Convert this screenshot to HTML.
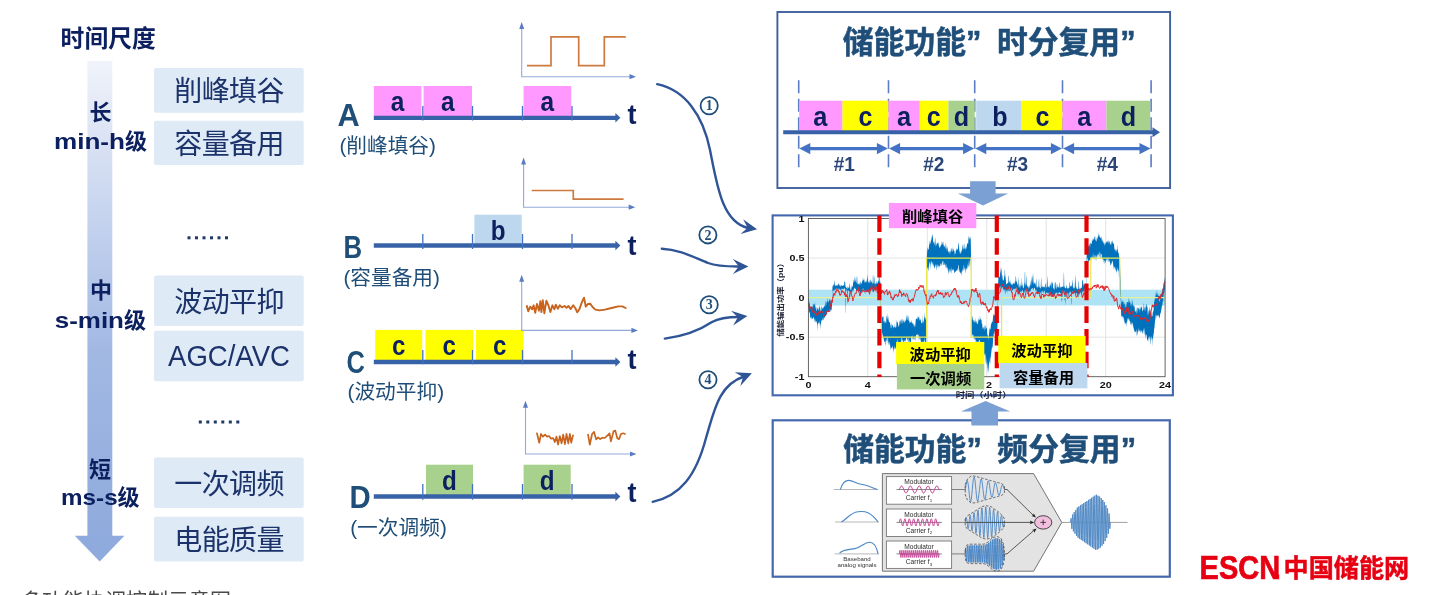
<!DOCTYPE html>
<html lang="zh"><head><meta charset="utf-8"><title>储能多功能协调控制示意图</title>
<style>
html,body{margin:0;padding:0;background:#fff}
body{width:1436px;height:595px;overflow:hidden;position:relative;font-family:"Liberation Sans","Noto Sans CJK SC",sans-serif}
svg{position:absolute;left:0;top:0;display:block;filter:blur(0.5px)}
svg text{font-family:"Liberation Sans","Noto Sans CJK SC",sans-serif}
.se{font-family:"Liberation Serif","Noto Serif CJK SC",serif}
</style></head><body>
<svg width="1436" height="595" viewBox="0 0 1436 595">
<defs>
<linearGradient id="gbar" x1="0" y1="0" x2="0" y2="1"><stop offset="0" stop-color="#f0f3fa"/><stop offset="0.3" stop-color="#c9d6ef"/><stop offset="0.6" stop-color="#a3b9e4"/><stop offset="1" stop-color="#8faadc"/></linearGradient>
</defs>
<rect x="87.4" y="61" width="24.9" height="476" fill="url(#gbar)"/>
<path d="M74.8 535.7H124.4L99.7 561.5Z" fill="#8faadc"/>
<text x="60.6" y="47.3" font-size="23.8" font-weight="700" fill="#0c2060">时间尺度</text>
<rect x="154" y="67.9" width="149.7" height="44.9" rx="2" fill="#deeaf6"/>
<text x="174.33" y="101.45" font-size="28" fill="#1b326a" textLength="110.2" lengthAdjust="spacing">削峰填谷</text>
<rect x="154" y="120.8" width="149.7" height="44.2" rx="2" fill="#deeaf6"/>
<text x="174.33" y="154" font-size="28" fill="#1b326a" textLength="110.2" lengthAdjust="spacing">容量备用</text>
<rect x="154" y="275.6" width="149.7" height="50.4" rx="2" fill="#deeaf6"/>
<text x="174.33" y="311.9" font-size="28" fill="#1b326a" textLength="110.2" lengthAdjust="spacing">波动平抑</text>
<rect x="154" y="330.8" width="149.7" height="50.5" rx="2" fill="#deeaf6"/>
<text x="229" y="365.95" font-size="29" fill="#1b326a" text-anchor="middle" textLength="122" lengthAdjust="spacingAndGlyphs">AGC/AVC</text>
<rect x="154" y="457.6" width="149.7" height="50.4" rx="2" fill="#deeaf6"/>
<text x="174.33" y="493.9" font-size="28" fill="#1b326a" textLength="110.2" lengthAdjust="spacing">一次调频</text>
<rect x="154" y="516.8" width="149.7" height="44.7" rx="2" fill="#deeaf6"/>
<text x="174.33" y="550.25" font-size="28" fill="#1b326a" textLength="110.2" lengthAdjust="spacing">电能质量</text>
<text x="89.5" y="120.3" font-size="22" font-weight="700" fill="#0c2060">长</text>
<text x="53.98" y="149.3" font-size="22" font-weight="700" fill="#0c2060" textLength="71.02" lengthAdjust="spacingAndGlyphs">min-h</text>
<text x="125" y="149.3" font-size="22" font-weight="700" fill="#0c2060">级</text>
<text x="90" y="298.3" font-size="22" font-weight="700" fill="#0c2060">中</text>
<text x="54.76" y="328" font-size="22" font-weight="700" fill="#0c2060" textLength="69.24" lengthAdjust="spacingAndGlyphs">s-min</text>
<text x="124" y="328" font-size="22" font-weight="700" fill="#0c2060">级</text>
<text x="89" y="477" font-size="22" font-weight="700" fill="#0c2060">短</text>
<text x="61.1" y="505" font-size="22" font-weight="700" fill="#0c2060" textLength="56.5" lengthAdjust="spacingAndGlyphs">ms-s</text>
<text x="117.6" y="505" font-size="22" font-weight="700" fill="#0c2060">级</text>
<rect x="187.5" y="236.3" width="3" height="3" fill="#1f3864"/>
<rect x="195" y="236.3" width="3" height="3" fill="#1f3864"/>
<rect x="202.5" y="236.3" width="3" height="3" fill="#1f3864"/>
<rect x="210" y="236.3" width="3" height="3" fill="#1f3864"/>
<rect x="217.5" y="236.3" width="3" height="3" fill="#1f3864"/>
<rect x="225" y="236.3" width="3" height="3" fill="#1f3864"/>
<rect x="198.8" y="420.5" width="3" height="3" fill="#1f3864"/>
<rect x="206.3" y="420.5" width="3" height="3" fill="#1f3864"/>
<rect x="213.8" y="420.5" width="3" height="3" fill="#1f3864"/>
<rect x="221.3" y="420.5" width="3" height="3" fill="#1f3864"/>
<rect x="228.8" y="420.5" width="3" height="3" fill="#1f3864"/>
<rect x="236.3" y="420.5" width="3" height="3" fill="#1f3864"/>
<text x="21" y="608.2" font-size="21" fill="#4a4a4a">多功能协调控制示意图</text>
<rect x="373.8" y="86" width="47.6" height="30.5" fill="#ff99ff"/>
<text x="390.8" y="110.6" font-size="27" font-weight="700" fill="#0c2060" textLength="13.6" lengthAdjust="spacingAndGlyphs">a</text>
<rect x="423.6" y="86" width="48.4" height="30.5" fill="#ff99ff"/>
<text x="441" y="110.6" font-size="27" font-weight="700" fill="#0c2060" textLength="13.6" lengthAdjust="spacingAndGlyphs">a</text>
<rect x="523.6" y="86" width="47.6" height="30.5" fill="#ff99ff"/>
<text x="540.6" y="110.6" font-size="27" font-weight="700" fill="#0c2060" textLength="13.6" lengthAdjust="spacingAndGlyphs">a</text>
<path d="M373.8 117.8H616" stroke="#3862a7" stroke-width="4.3" fill="none"/>
<path d="M620.4 117.8l-5 -4.7v9.4z" fill="#3862a7"/>
<path d="M422.8 106V120.5" stroke="#4472c4" stroke-width="1.3"/>
<path d="M472.5 106V120.5" stroke="#4472c4" stroke-width="1.3"/>
<path d="M522.5 106V120.5" stroke="#4472c4" stroke-width="1.3"/>
<path d="M572 106V120.5" stroke="#4472c4" stroke-width="1.3"/>
<text x="337.5" y="126" font-size="31" font-weight="700" fill="#1f4e79" textLength="22.2" lengthAdjust="spacingAndGlyphs">A</text>
<text x="627.5" y="124.3" font-size="27" font-weight="700" fill="#0c2060">t</text>
<text x="339.4" y="153.4" font-size="20.7" font-weight="400" fill="#1f4e79" textLength="6.89" lengthAdjust="spacingAndGlyphs">(</text>
<text x="346.29" y="153.4" font-size="20.7" fill="#1f4e79">削峰填谷</text>
<text x="429.09" y="153.4" font-size="20.7" font-weight="400" fill="#1f4e79" textLength="6.89" lengthAdjust="spacingAndGlyphs">)</text>
<path d="M521.7 27V76.7H631" stroke="#94a9db" stroke-width="1.1" fill="none"/>
<path d="M521.7 22l-2.5 7h5z M636 76.7l-6.5 -2.6v5.2z" fill="#5b7cc4"/>
<path d="M527 65.7H551V36.9H578.7V65.7H604.3V36.9H625.8" stroke="#cd7a3f" stroke-width="1.7" fill="none"/>
<rect x="474.4" y="214.7" width="47.3" height="30.3" fill="#bdd7ee"/>
<text x="490.65" y="240" font-size="27" font-weight="700" fill="#0c2060" textLength="14.8" lengthAdjust="spacingAndGlyphs">b</text>
<path d="M373.8 245.5H616" stroke="#3862a7" stroke-width="4.3" fill="none"/>
<path d="M620.4 245.5l-5 -4.7v9.4z" fill="#3862a7"/>
<path d="M422.8 234V249" stroke="#4472c4" stroke-width="1.3"/>
<path d="M472.5 234V249" stroke="#4472c4" stroke-width="1.3"/>
<path d="M522.5 234V249" stroke="#4472c4" stroke-width="1.3"/>
<path d="M572 234V249" stroke="#4472c4" stroke-width="1.3"/>
<text x="343.5" y="258.3" font-size="31" font-weight="700" fill="#1f4e79" textLength="18.6" lengthAdjust="spacingAndGlyphs">B</text>
<text x="627.5" y="255" font-size="27" font-weight="700" fill="#0c2060">t</text>
<text x="343.4" y="284.9" font-size="20.7" font-weight="400" fill="#1f4e79" textLength="6.89" lengthAdjust="spacingAndGlyphs">(</text>
<text x="350.29" y="284.9" font-size="20.7" fill="#1f4e79">容量备用</text>
<text x="433.09" y="284.9" font-size="20.7" font-weight="400" fill="#1f4e79" textLength="6.89" lengthAdjust="spacingAndGlyphs">)</text>
<path d="M523.6 162.5V207.2H630.2" stroke="#94a9db" stroke-width="1.1" fill="none"/>
<path d="M523.6 157.5l-2.5 7h5z M635.2 207.2l-6.5 -2.6v5.2z" fill="#5b7cc4"/>
<path d="M531.7 190.5H573.3V199.2H623.6" stroke="#cd7a3f" stroke-width="1.7" fill="none"/>
<rect x="375.2" y="329.9" width="47" height="30.6" fill="#ffff00"/>
<text x="392" y="354.6" font-size="27" font-weight="700" fill="#0c2060" textLength="13.4" lengthAdjust="spacingAndGlyphs">c</text>
<rect x="425.5" y="329.9" width="47.5" height="30.6" fill="#ffff00"/>
<text x="442.55" y="354.6" font-size="27" font-weight="700" fill="#0c2060" textLength="13.4" lengthAdjust="spacingAndGlyphs">c</text>
<rect x="476" y="329.9" width="47.6" height="30.6" fill="#ffff00"/>
<text x="493.1" y="354.6" font-size="27" font-weight="700" fill="#0c2060" textLength="13.4" lengthAdjust="spacingAndGlyphs">c</text>
<path d="M373.8 362H616" stroke="#3862a7" stroke-width="4.3" fill="none"/>
<path d="M620.4 362l-5 -4.7v9.4z" fill="#3862a7"/>
<path d="M422.8 350V364.3" stroke="#4472c4" stroke-width="1.3"/>
<path d="M472.5 350V364.3" stroke="#4472c4" stroke-width="1.3"/>
<path d="M522.5 350V364.3" stroke="#4472c4" stroke-width="1.3"/>
<path d="M572 350V364.3" stroke="#4472c4" stroke-width="1.3"/>
<text x="346.5" y="372.9" font-size="31" font-weight="700" fill="#1f4e79" textLength="18.4" lengthAdjust="spacingAndGlyphs">C</text>
<text x="627.5" y="369" font-size="27" font-weight="700" fill="#0c2060">t</text>
<text x="347.5" y="398.9" font-size="20.7" font-weight="400" fill="#1f4e79" textLength="6.89" lengthAdjust="spacingAndGlyphs">(</text>
<text x="354.39" y="398.9" font-size="20.7" fill="#1f4e79">波动平抑</text>
<text x="437.19" y="398.9" font-size="20.7" font-weight="400" fill="#1f4e79" textLength="6.89" lengthAdjust="spacingAndGlyphs">)</text>
<path d="M521.7 279.8V330.4H632.9" stroke="#94a9db" stroke-width="1.1" fill="none"/>
<path d="M521.7 274.8l-2.5 7h5z M637.9 330.4l-6.5 -2.6v5.2z" fill="#5b7cc4"/>
<path d="M526.88 305.99 L528.23 311.37 L530.24 306.67 L532.26 309.35 L533.6 305.32 L535.22 312.72 L536.96 303.98 L538.98 310.7 L540.32 301.29 L541.4 312.04 L542.74 300.22 L544.35 313.39 L546.37 300.62 L548.39 305.32 L550.4 312.04 L552.42 305.32 L554.44 309.35 L555.78 304.65 L557.8 308.68 L559.81 305.32 L561.83 307.34 L564.52 305.99 L566.53 307.74 L568.55 305.99 L570.56 309.09 L573.25 305.32 L575.27 308.01 L577.28 312.31 L579.3 309.35 L581.99 301.96 L584.01 297.66 L585.75 306.67 L588.04 303.98 L590.32 303.71 L592.74 307.34 L595.43 309.62 L599.46 310.43 L604.84 309.62 L611.56 308.01 L618.28 306.4 L622.31 306.4 L625.67 308.01" stroke="#c8641d" stroke-width="1.9" fill="none" stroke-linejoin="round" stroke-linecap="round"/>
<rect x="426" y="464.7" width="47" height="30.3" fill="#a9d18e"/>
<text x="442.1" y="490" font-size="27" font-weight="700" fill="#0c2060" textLength="14.8" lengthAdjust="spacingAndGlyphs">d</text>
<rect x="523.6" y="464.7" width="47.1" height="30.3" fill="#a9d18e"/>
<text x="539.75" y="490" font-size="27" font-weight="700" fill="#0c2060" textLength="14.8" lengthAdjust="spacingAndGlyphs">d</text>
<path d="M373.8 496.5H616" stroke="#3862a7" stroke-width="4.3" fill="none"/>
<path d="M620.4 496.5l-5 -4.7v9.4z" fill="#3862a7"/>
<path d="M422.8 484V499.7" stroke="#4472c4" stroke-width="1.3"/>
<path d="M472.5 484V499.7" stroke="#4472c4" stroke-width="1.3"/>
<path d="M522.5 484V499.7" stroke="#4472c4" stroke-width="1.3"/>
<path d="M572 484V499.7" stroke="#4472c4" stroke-width="1.3"/>
<text x="349.5" y="508.3" font-size="31" font-weight="700" fill="#1f4e79" textLength="21.2" lengthAdjust="spacingAndGlyphs">D</text>
<text x="627.5" y="501.6" font-size="27" font-weight="700" fill="#0c2060">t</text>
<text x="350.2" y="534.9" font-size="20.7" font-weight="400" fill="#1f4e79" textLength="6.89" lengthAdjust="spacingAndGlyphs">(</text>
<text x="357.09" y="534.9" font-size="20.7" fill="#1f4e79">一次调频</text>
<text x="439.89" y="534.9" font-size="20.7" font-weight="400" fill="#1f4e79" textLength="6.89" lengthAdjust="spacingAndGlyphs">)</text>
<path d="M525.5 405.8V454H631.5" stroke="#94a9db" stroke-width="1.1" fill="none"/>
<path d="M525.5 400.8l-2.5 7h5z M636.5 454l-6.5 -2.6v5.2z" fill="#5b7cc4"/>
<path d="M536.96 433.31 L539.25 442.72 L540.99 433.98 L543.01 436.67 L545.03 434.65 L547.04 436.67 L549.06 435.99 L551.08 438.68 L553.09 438.01 L554.84 442.04 L556.45 436.67 L558.06 444.46 L559.81 435.99 L561.56 443.39 L563.17 434.65 L564.92 444.06 L566.53 433.98 L568.28 443.39 L569.89 433.98 L571.24 442.72 L572.98 435.32" stroke="#c8641d" stroke-width="1.7" fill="none" stroke-linejoin="round" stroke-linecap="round"/>
<path d="M588.04 434.65 L589.78 444.73 L592.07 433.98 L594.09 431.96 L596.1 439.35 L598.12 437.34 L600.13 439.09 L602.15 437.74 L604.84 438.01 L607.53 435.32 L609.54 433.31 L610.89 441.37 L613.58 431.29 L615.32 430.62 L617.2 438.01 L618.95 439.35 L620.97 433.98 L622.98 433.31 L625 433.98" stroke="#c8641d" stroke-width="1.7" fill="none" stroke-linejoin="round" stroke-linecap="round"/>
<path d="M657.2 84.2C685 90 703 115 710 150C717 185 722 222 748 228" stroke="#2f5597" stroke-width="2.4" fill="none" stroke-linecap="round"/>
<path d="M757.1 229.3 L743.14 219.22 L747.64 227.63 L740.53 233.99Z" fill="#2f5597"/>
<path d="M661.8 248.7C680 249.5 695 258 708 263C718 266.8 730 266.5 740 266.5" stroke="#2f5597" stroke-width="2.4" fill="none" stroke-linecap="round"/>
<path d="M748.4 266.6 L732.9 259.1 L738.79 266.6 L732.9 274.1Z" fill="#2f5597"/>
<path d="M664.8 338.6C685 336 700 330 712 322C720 317.5 730 317 739 317" stroke="#2f5597" stroke-width="2.4" fill="none" stroke-linecap="round"/>
<path d="M747.4 315.9 L731.01 310.63 L737.88 317.24 L733.09 325.48Z" fill="#2f5597"/>
<path d="M652.7 501.8C680 496 696 476 706 438C714 412 718 385 744 376.5" stroke="#2f5597" stroke-width="2.4" fill="none" stroke-linecap="round"/>
<path d="M751.9 373.3 L734.72 372.15 L742.99 376.9 L740.34 386.06Z" fill="#2f5597"/>
<circle cx="709.2" cy="105.7" r="8.6" fill="none" stroke="#1f4e79" stroke-width="1.8"/>
<text class="se" x="709.2" y="110.4" font-size="14" font-weight="700" fill="#1f4e79" text-anchor="middle">1</text>
<circle cx="707.9" cy="234.9" r="8.6" fill="none" stroke="#1f4e79" stroke-width="1.8"/>
<text class="se" x="707.9" y="239.6" font-size="14" font-weight="700" fill="#1f4e79" text-anchor="middle">2</text>
<circle cx="709.2" cy="304.7" r="8.6" fill="none" stroke="#1f4e79" stroke-width="1.8"/>
<text class="se" x="709.2" y="309.4" font-size="14" font-weight="700" fill="#1f4e79" text-anchor="middle">3</text>
<circle cx="708" cy="379.7" r="8.6" fill="none" stroke="#1f4e79" stroke-width="1.8"/>
<text class="se" x="708" y="384.4" font-size="14" font-weight="700" fill="#1f4e79" text-anchor="middle">4</text>
<rect x="777.4" y="12" width="392.7" height="176" fill="none" stroke="#3f5f9c" stroke-width="1.9"/>
<text x="842.8" y="53.4" font-size="30.8" font-weight="700" fill="#1f4e79" stroke="#1f4e79" stroke-width="0.5" stroke-linejoin="round">储能功能<tspan x="966">”</tspan><tspan x="996.95">时分复用</tspan><tspan x="1120.3">”</tspan></text>
<path d="M798.7 80.2V168.6" stroke="#5a7dc6" stroke-width="1.6" stroke-dasharray="13 5.5" fill="none"/>
<path d="M888.5 80.2V168.6" stroke="#5a7dc6" stroke-width="1.6" stroke-dasharray="13 5.5" fill="none"/>
<path d="M974.7 80.2V168.6" stroke="#5a7dc6" stroke-width="1.6" stroke-dasharray="13 5.5" fill="none"/>
<path d="M1062.5 80.2V168.6" stroke="#5a7dc6" stroke-width="1.6" stroke-dasharray="13 5.5" fill="none"/>
<path d="M1151.1 80.2V168.6" stroke="#5a7dc6" stroke-width="1.6" stroke-dasharray="13 5.5" fill="none"/>
<rect x="799.2" y="100.7" width="43.3" height="30.3" fill="#ff99ff"/>
<text x="813.35" y="125.9" font-size="28" font-weight="700" fill="#0c2060" textLength="14.1" lengthAdjust="spacingAndGlyphs">a</text>
<rect x="842.5" y="100.7" width="46" height="30.3" fill="#ffff00"/>
<text x="858.55" y="125.9" font-size="28" font-weight="700" fill="#0c2060" textLength="13.9" lengthAdjust="spacingAndGlyphs">c</text>
<rect x="888.5" y="100.7" width="31.3" height="30.3" fill="#ff99ff"/>
<text x="897.05" y="125.9" font-size="28" font-weight="700" fill="#0c2060" textLength="14.1" lengthAdjust="spacingAndGlyphs">a</text>
<rect x="919.8" y="100.7" width="28.6" height="30.3" fill="#ffff00"/>
<text x="926.85" y="125.9" font-size="28" font-weight="700" fill="#0c2060" textLength="13.9" lengthAdjust="spacingAndGlyphs">c</text>
<rect x="948.4" y="100.7" width="26.3" height="30.3" fill="#a9d18e"/>
<text x="953.63" y="125.9" font-size="28" font-weight="700" fill="#0c2060" textLength="15.35" lengthAdjust="spacingAndGlyphs">d</text>
<rect x="976.2" y="100.7" width="44.8" height="30.3" fill="#bdd7ee"/>
<text x="992.23" y="125.9" font-size="28" font-weight="700" fill="#0c2060" textLength="15.35" lengthAdjust="spacingAndGlyphs">b</text>
<rect x="1021" y="100.7" width="41.5" height="30.3" fill="#ffff00"/>
<text x="1035.55" y="125.9" font-size="28" font-weight="700" fill="#0c2060" textLength="13.9" lengthAdjust="spacingAndGlyphs">c</text>
<rect x="1062.5" y="100.7" width="43.9" height="30.3" fill="#ff99ff"/>
<text x="1077.25" y="125.9" font-size="28" font-weight="700" fill="#0c2060" textLength="14.1" lengthAdjust="spacingAndGlyphs">a</text>
<rect x="1106.4" y="100.7" width="43.8" height="30.3" fill="#a9d18e"/>
<text x="1120.63" y="125.9" font-size="28" font-weight="700" fill="#0c2060" textLength="15.35" lengthAdjust="spacingAndGlyphs">d</text>
<path d="M783.2 132.3H1153" stroke="#3862a7" stroke-width="4" fill="none"/>
<path d="M1160 132.3l-7.5 -5v10z" fill="#3862a7"/>
<path d="M806.7 148.6H880.5" stroke="#4472c4" stroke-width="3.1" fill="none"/>
<path d="M799.3 148.6l11 -5.6v11.2z M887.9 148.6l-11 -5.6v11.2z" fill="#4472c4"/>
<path d="M896.5 148.6H966.7" stroke="#4472c4" stroke-width="3.1" fill="none"/>
<path d="M889.1 148.6l11 -5.6v11.2z M974.1 148.6l-11 -5.6v11.2z" fill="#4472c4"/>
<path d="M982.7 148.6H1054.5" stroke="#4472c4" stroke-width="3.1" fill="none"/>
<path d="M975.3 148.6l11 -5.6v11.2z M1061.9 148.6l-11 -5.6v11.2z" fill="#4472c4"/>
<path d="M1070.5 148.6H1143.1" stroke="#4472c4" stroke-width="3.1" fill="none"/>
<path d="M1063.1 148.6l11 -5.6v11.2z M1150.5 148.6l-11 -5.6v11.2z" fill="#4472c4"/>
<text x="833.7" y="170.8" font-size="19.6" font-weight="700" fill="#2a4577" textLength="21.2" lengthAdjust="spacingAndGlyphs">#1</text>
<text x="923.2" y="170.8" font-size="19.6" font-weight="700" fill="#2a4577" textLength="21.2" lengthAdjust="spacingAndGlyphs">#2</text>
<text x="1006.9" y="170.8" font-size="19.6" font-weight="700" fill="#2a4577" textLength="21.2" lengthAdjust="spacingAndGlyphs">#3</text>
<text x="1096.7" y="170.8" font-size="19.6" font-weight="700" fill="#2a4577" textLength="21.2" lengthAdjust="spacingAndGlyphs">#4</text>
<path d="M970.1 181.3H995.6V193.4H1008.2L983 205.5L957.8 193.4H970.1Z" fill="#7ba0d3"/>
<path d="M971.5 424.5V411.5H960.9L985.6 400.9L1010.3 411.5H998V424.5Z" fill="#7ba0d3"/>
<rect x="772.6" y="215.4" width="400.3" height="179.9" fill="#fff" stroke="#4468ad" stroke-width="2.1"/>
<path d="M867.85 218.5V376.7M927.3 218.5V376.7M986.75 218.5V376.7M1046.2 218.5V376.7M1105.65 218.5V376.7M808.4 258.05H1165.1M808.4 297.6H1165.1M808.4 337.15H1165.1" stroke="#dcdcdc" stroke-width="0.8" fill="none"/>
<rect x="808.4" y="289.69" width="356.7" height="15.82" fill="#aee3f5"/>
<path d="M808.4 296.6 808.7 298.2 808.9 298.9 809.2 302.1 809.5 303.1 809.8 303.8 810.0 305.9 810.3 307.0 810.6 306.2 810.9 308.4 811.1 307.4 811.4 308.0 811.7 306.2 812.0 306.8 812.2 308.7 812.5 303.3 812.8 306.9 813.1 306.6 813.3 304.2 813.6 303.5 813.9 305.0 814.2 304.5 814.4 304.5 814.7 304.7 815.0 301.2 815.3 306.5 815.5 306.9 815.8 309.1 816.1 306.0 816.4 309.6 816.6 310.7 816.9 311.0 817.2 307.4 817.5 308.8 817.7 309.4 818.0 305.4 818.3 311.2 818.6 309.6 818.8 309.7 819.1 305.0 819.4 307.9 819.7 305.4 819.9 309.7 820.2 306.9 820.5 311.7 820.8 310.5 821.0 311.5 821.3 310.1 821.6 305.9 821.9 306.3 822.1 308.0 822.4 307.6 822.7 308.9 823.0 308.9 823.2 307.7 823.5 307.8 823.8 306.5 824.1 306.7 824.3 306.4 824.6 305.7 824.9 305.0 825.2 307.1 825.4 300.6 825.7 302.1 826.0 305.0 826.2 305.0 826.5 301.0 826.8 302.5 827.1 302.1 827.3 300.9 827.6 296.9 827.9 301.7 828.2 301.8 828.4 300.3 828.7 303.6 829.0 300.7 829.3 299.8 829.5 300.1 829.8 298.7 830.1 299.1 830.4 301.3 830.6 302.9 830.9 300.5 831.2 302.9 831.5 302.5 831.7 300.3 832.0 298.8 832.3 291.2 832.6 284.4 832.8 286.8 833.1 285.5 833.4 284.1 833.7 287.1 833.9 283.6 834.2 285.7 834.5 282.0 834.8 280.0 835.0 284.2 835.3 286.2 835.6 286.2 835.9 284.5 836.1 285.5 836.4 285.1 836.7 285.8 837.0 285.8 837.2 284.4 837.5 286.1 837.8 284.7 838.1 286.6 838.3 282.9 838.6 283.8 838.9 284.1 839.2 285.6 839.4 283.9 839.7 285.6 840.0 286.4 840.3 284.3 840.5 286.5 840.8 286.7 841.1 286.1 841.4 284.9 841.6 285.8 841.9 285.0 842.2 286.0 842.4 285.9 842.7 285.9 843.0 284.8 843.3 285.6 843.5 285.8 843.8 284.7 844.1 285.9 844.4 280.0 844.6 281.7 844.9 281.9 845.2 282.4 845.5 287.1 845.7 286.3 846.0 287.7 846.3 287.6 846.6 287.7 846.8 288.7 847.1 285.8 847.4 287.6 847.7 289.3 847.9 288.9 848.2 287.0 848.5 287.5 848.8 288.6 849.0 287.2 849.3 282.9 849.6 284.3 849.9 288.9 850.1 286.8 850.4 289.0 850.7 290.4 851.0 289.9 851.2 290.1 851.5 287.4 851.8 285.6 852.1 285.3 852.3 287.3 852.6 286.9 852.9 285.7 853.2 280.1 853.4 279.6 853.7 283.2 854.0 281.1 854.3 282.0 854.5 280.1 854.8 277.0 855.1 276.7 855.4 281.8 855.6 279.5 855.9 282.0 856.2 283.6 856.5 282.0 856.7 278.0 857.0 275.6 857.3 279.8 857.6 284.0 857.8 284.3 858.1 282.9 858.4 284.6 858.7 284.4 858.9 283.7 859.2 283.8 859.5 284.9 859.7 280.8 860.0 285.5 860.3 283.3 860.6 281.1 860.8 281.9 861.1 284.2 861.4 282.4 861.7 283.3 861.9 284.1 862.2 280.6 862.5 281.3 862.8 279.0 863.0 277.0 863.3 280.3 863.6 279.4 863.9 280.6 864.1 280.9 864.4 278.3 864.7 283.2 865.0 282.3 865.2 281.7 865.5 281.3 865.8 282.7 866.1 280.7 866.3 282.9 866.6 281.7 866.9 279.6 867.2 277.4 867.4 273.8 867.7 278.3 868.0 281.0 868.3 281.9 868.5 282.9 868.8 281.9 869.1 281.0 869.4 280.5 869.6 282.9 869.9 283.0 870.2 282.9 870.5 279.5 870.7 279.5 871.0 280.4 871.3 281.5 871.6 282.0 871.8 281.4 872.1 284.6 872.4 283.1 872.7 282.2 872.9 275.4 873.2 275.1 873.5 282.6 873.8 282.9 874.0 283.9 874.3 284.2 874.6 278.1 874.9 275.9 875.1 283.2 875.4 283.1 875.7 284.5 876.0 284.4 876.2 283.7 876.5 282.9 876.8 281.0 877.0 281.6 877.3 283.7 877.6 284.0 877.9 281.7 878.1 280.6 878.4 280.4 878.7 282.3 879.0 271.9 879.2 269.7 879.5 277.3 879.8 282.2 880.1 282.5 880.3 279.9 880.6 287.6 880.9 300.1 881.2 306.8 881.4 315.0 881.7 315.5 882.0 316.4 882.3 317.3 882.5 318.1 882.8 315.6 883.1 317.2 883.4 315.7 883.6 321.6 883.9 322.0 884.2 320.5 884.5 320.6 884.7 322.8 885.0 323.7 885.3 321.5 885.6 321.0 885.8 322.6 886.1 323.4 886.4 317.4 886.7 315.8 886.9 316.0 887.2 319.7 887.5 317.9 887.8 312.7 888.0 318.6 888.3 321.3 888.6 315.1 888.9 321.4 889.1 322.6 889.4 321.8 889.7 322.5 890.0 322.2 890.2 325.4 890.5 323.7 890.8 328.5 891.1 327.4 891.3 329.0 891.6 322.0 891.9 326.1 892.2 324.2 892.4 324.7 892.7 325.9 893.0 326.5 893.3 328.7 893.5 326.3 893.8 327.0 894.1 328.1 894.3 323.8 894.6 327.2 894.9 327.1 895.2 328.1 895.4 325.1 895.7 327.8 896.0 327.4 896.3 326.6 896.5 322.9 896.8 319.8 897.1 322.0 897.4 322.3 897.6 323.6 897.9 320.9 898.2 327.1 898.5 326.7 898.7 325.1 899.0 325.6 899.3 324.9 899.6 318.7 899.8 322.4 900.1 320.9 900.4 319.4 900.7 321.9 900.9 323.7 901.2 323.3 901.5 318.2 901.8 321.6 902.0 318.4 902.3 319.3 902.6 321.8 902.9 323.9 903.1 322.5 903.4 319.9 903.7 321.7 904.0 318.8 904.2 320.8 904.5 322.7 904.8 322.9 905.1 320.3 905.3 321.7 905.6 320.4 905.9 320.4 906.2 313.4 906.4 316.4 906.7 318.9 907.0 320.3 907.3 320.0 907.5 317.7 907.8 314.0 908.1 321.2 908.4 319.9 908.6 316.1 908.9 316.2 909.2 322.4 909.5 320.0 909.7 323.2 910.0 323.1 910.3 320.9 910.5 323.3 910.8 322.1 911.1 322.2 911.4 319.6 911.6 321.9 911.9 323.0 912.2 323.2 912.5 322.3 912.7 324.2 913.0 323.4 913.3 323.3 913.6 325.6 913.8 325.7 914.1 324.6 914.4 325.0 914.7 326.9 914.9 327.3 915.2 326.6 915.5 323.0 915.8 319.5 916.0 319.3 916.3 318.5 916.6 318.6 916.9 319.0 917.1 315.6 917.4 319.0 917.7 320.0 918.0 316.8 918.2 317.2 918.5 316.6 918.8 318.8 919.1 315.5 919.3 319.7 919.6 320.8 919.9 318.1 920.2 320.2 920.4 319.8 920.7 318.8 921.0 322.2 921.3 322.6 921.5 323.3 921.8 323.2 922.1 322.6 922.4 314.2 922.6 324.0 922.9 321.2 923.2 320.3 923.5 323.6 923.7 322.7 924.0 319.6 924.3 316.3 924.6 318.8 924.8 311.7 925.1 317.6 925.4 318.9 925.7 320.6 925.9 316.7 926.2 320.4 926.5 294.3 926.8 264.0 927.0 247.1 927.3 247.9 927.6 254.0 927.8 247.7 928.1 250.0 928.4 248.9 928.7 249.5 928.9 246.9 929.2 244.7 929.5 243.7 929.8 240.9 930.0 240.8 930.3 243.5 930.6 244.1 930.9 240.4 931.1 236.2 931.4 240.1 931.7 240.4 932.0 234.4 932.2 234.0 932.5 237.4 932.8 234.9 933.1 241.4 933.3 242.2 933.6 241.8 933.9 243.5 934.2 245.2 934.4 240.9 934.7 245.5 935.0 237.6 935.3 238.8 935.5 242.0 935.8 246.6 936.1 246.3 936.4 244.6 936.6 243.5 936.9 244.1 937.2 241.9 937.5 243.6 937.7 243.7 938.0 243.2 938.3 242.1 938.6 243.9 938.8 245.8 939.1 246.1 939.4 247.8 939.7 248.5 939.9 246.9 940.2 246.7 940.5 246.2 940.8 245.7 941.0 244.8 941.3 245.2 941.6 240.4 941.9 244.7 942.1 245.0 942.4 241.0 942.7 243.9 943.0 243.4 943.2 241.0 943.5 245.0 943.8 245.6 944.1 248.0 944.3 245.8 944.6 246.8 944.9 245.8 945.1 242.1 945.4 245.4 945.7 248.1 946.0 249.3 946.2 243.3 946.5 251.3 946.8 248.1 947.1 247.2 947.3 246.5 947.6 252.1 947.9 247.1 948.2 253.5 948.4 252.1 948.7 251.6 949.0 251.2 949.3 251.7 949.5 254.9 949.8 250.8 950.1 251.0 950.4 252.6 950.6 253.9 950.9 249.0 951.2 248.4 951.5 248.3 951.7 251.0 952.0 251.0 952.3 246.4 952.6 252.1 952.8 251.8 953.1 249.3 953.4 248.1 953.7 250.9 953.9 250.6 954.2 251.6 954.5 250.4 954.8 256.1 955.0 252.9 955.3 254.1 955.6 253.2 955.9 249.5 956.1 250.8 956.4 247.7 956.7 250.5 957.0 248.6 957.2 248.4 957.5 250.4 957.8 249.3 958.1 247.5 958.3 244.5 958.6 242.4 958.9 244.2 959.2 249.2 959.4 251.1 959.7 251.6 960.0 254.2 960.3 253.8 960.5 251.1 960.8 254.1 961.1 250.2 961.3 250.0 961.6 252.8 961.9 251.8 962.2 246.9 962.4 243.8 962.7 246.5 963.0 250.3 963.3 247.2 963.5 250.3 963.8 245.5 964.1 242.7 964.4 246.9 964.6 248.8 964.9 248.8 965.2 248.8 965.5 245.9 965.7 251.0 966.0 247.5 966.3 249.3 966.6 245.7 966.8 246.3 967.1 243.4 967.4 243.3 967.7 242.9 967.9 243.9 968.2 243.8 968.5 236.3 968.8 236.8 969.0 239.2 969.3 235.9 969.6 239.1 969.9 240.0 970.1 235.8 970.4 239.0 970.7 238.2 971.0 253.9 971.2 291.0 971.5 316.0 971.8 319.9 972.1 319.4 972.3 319.9 972.6 316.4 972.9 316.1 973.2 321.2 973.4 320.1 973.7 320.7 974.0 322.9 974.3 319.9 974.5 320.4 974.8 323.4 975.1 317.5 975.4 321.4 975.6 321.2 975.9 322.9 976.2 321.6 976.5 320.9 976.7 322.7 977.0 324.1 977.3 324.1 977.6 324.0 977.8 323.0 978.1 316.7 978.4 323.6 978.6 320.4 978.9 319.3 979.2 319.4 979.5 320.3 979.7 320.6 980.0 314.4 980.3 320.4 980.6 318.7 980.8 318.3 981.1 320.1 981.4 319.3 981.7 322.4 981.9 323.9 982.2 323.7 982.5 327.3 982.8 329.0 983.0 329.8 983.3 327.1 983.6 327.1 983.9 328.9 984.1 325.5 984.4 331.6 984.7 327.3 985.0 324.4 985.2 328.4 985.5 330.1 985.8 324.5 986.1 326.4 986.3 327.8 986.6 328.8 986.9 327.7 987.2 334.2 987.4 336.1 987.7 333.8 988.0 338.0 988.3 334.4 988.5 341.2 988.8 336.3 989.1 332.9 989.4 330.6 989.6 326.7 989.9 329.5 990.2 329.0 990.5 329.2 990.7 327.4 991.0 323.8 991.3 321.5 991.6 324.5 991.8 323.9 992.1 321.6 992.4 321.6 992.7 322.1 992.9 318.3 993.2 315.8 993.5 313.3 993.8 314.9 994.0 315.2 994.3 315.6 994.6 315.4 994.9 314.2 995.1 315.1 995.4 313.0 995.7 313.6 995.9 316.9 996.2 314.4 996.5 316.9 996.8 316.6 997.0 316.2 997.3 315.4 997.6 310.5 997.9 296.4 998.1 286.3 998.4 276.8 998.7 275.7 999.0 276.2 999.2 277.2 999.5 277.2 999.8 277.0 1000.1 274.0 1000.3 272.1 1000.6 266.7 1000.9 272.8 1001.2 269.1 1001.4 266.9 1001.7 272.6 1002.0 278.8 1002.3 280.9 1002.5 275.4 1002.8 274.7 1003.1 280.4 1003.4 279.6 1003.6 280.8 1003.9 280.1 1004.2 275.6 1004.5 277.3 1004.7 270.4 1005.0 269.6 1005.3 282.8 1005.6 275.7 1005.8 275.0 1006.1 284.0 1006.4 284.1 1006.7 284.1 1006.9 285.1 1007.2 282.8 1007.5 283.6 1007.8 282.8 1008.0 283.0 1008.3 282.6 1008.6 275.8 1008.9 275.6 1009.1 281.6 1009.4 282.4 1009.7 280.4 1010.0 283.6 1010.2 283.6 1010.5 283.7 1010.8 279.5 1011.1 284.2 1011.3 283.7 1011.6 284.2 1011.9 285.2 1012.2 283.4 1012.4 285.4 1012.7 284.9 1013.0 281.6 1013.2 283.7 1013.5 282.8 1013.8 284.1 1014.1 283.6 1014.3 283.4 1014.6 284.3 1014.9 281.6 1015.2 280.8 1015.4 283.3 1015.7 275.6 1016.0 277.0 1016.3 281.0 1016.5 282.5 1016.8 280.9 1017.1 282.7 1017.4 285.6 1017.6 283.7 1017.9 284.2 1018.2 288.3 1018.5 281.9 1018.7 276.1 1019.0 281.7 1019.3 286.1 1019.6 286.5 1019.8 287.4 1020.1 288.6 1020.4 286.0 1020.7 283.0 1020.9 284.9 1021.2 286.3 1021.5 285.6 1021.8 277.2 1022.0 281.0 1022.3 285.1 1022.6 285.3 1022.9 287.4 1023.1 287.8 1023.4 288.0 1023.7 288.5 1024.0 283.7 1024.2 282.3 1024.5 286.5 1024.8 272.4 1025.1 271.5 1025.3 286.7 1025.6 284.2 1025.9 283.8 1026.2 275.0 1026.4 277.0 1026.7 284.7 1027.0 285.3 1027.3 285.6 1027.5 286.5 1027.8 286.7 1028.1 287.2 1028.4 285.6 1028.6 287.7 1028.9 289.1 1029.2 287.8 1029.4 287.3 1029.7 284.8 1030.0 287.3 1030.3 280.6 1030.5 281.7 1030.8 285.1 1031.1 285.4 1031.4 280.6 1031.6 279.9 1031.9 276.6 1032.2 276.8 1032.5 283.7 1032.7 278.0 1033.0 272.4 1033.3 277.7 1033.6 283.3 1033.8 283.9 1034.1 283.3 1034.4 281.9 1034.7 284.0 1034.9 283.2 1035.2 282.7 1035.5 285.6 1035.8 284.9 1036.0 280.3 1036.3 278.1 1036.6 286.4 1036.9 287.4 1037.1 288.1 1037.4 286.1 1037.7 286.8 1038.0 287.7 1038.2 287.5 1038.5 285.6 1038.8 279.6 1039.1 279.1 1039.3 286.8 1039.6 286.8 1039.9 288.1 1040.2 288.7 1040.4 287.8 1040.7 288.4 1041.0 279.7 1041.3 277.3 1041.5 287.5 1041.8 286.6 1042.1 287.8 1042.4 286.6 1042.6 285.1 1042.9 286.9 1043.2 287.6 1043.5 286.5 1043.7 287.2 1044.0 286.1 1044.3 287.3 1044.6 287.3 1044.8 287.8 1045.1 283.4 1045.4 283.7 1045.7 285.0 1045.9 288.9 1046.2 287.0 1046.5 286.9 1046.7 287.7 1047.0 280.9 1047.3 275.1 1047.6 282.4 1047.8 287.6 1048.1 286.4 1048.4 287.3 1048.7 287.3 1048.9 285.5 1049.2 287.9 1049.5 287.5 1049.8 284.5 1050.0 284.7 1050.3 282.4 1050.6 285.8 1050.9 286.3 1051.1 281.5 1051.4 281.7 1051.7 288.5 1052.0 283.3 1052.2 283.8 1052.5 282.8 1052.8 281.5 1053.1 289.3 1053.3 287.0 1053.6 288.4 1053.9 288.5 1054.2 289.8 1054.4 290.4 1054.7 284.5 1055.0 282.4 1055.3 282.5 1055.5 281.4 1055.8 286.9 1056.1 289.2 1056.4 288.2 1056.6 287.1 1056.9 283.6 1057.2 284.2 1057.5 287.3 1057.7 287.3 1058.0 287.3 1058.3 286.0 1058.6 287.5 1058.8 287.4 1059.1 288.0 1059.4 282.3 1059.7 282.9 1059.9 288.0 1060.2 287.5 1060.5 286.0 1060.8 287.8 1061.0 287.8 1061.3 286.8 1061.6 287.1 1061.9 286.9 1062.1 286.9 1062.4 286.5 1062.7 286.2 1063.0 286.7 1063.2 287.5 1063.5 285.6 1063.8 272.9 1064.0 272.6 1064.3 287.8 1064.6 285.7 1064.9 287.9 1065.1 288.4 1065.4 288.3 1065.7 287.7 1066.0 288.0 1066.2 288.5 1066.5 284.3 1066.8 285.7 1067.1 289.1 1067.3 288.8 1067.6 287.6 1067.9 288.2 1068.2 287.9 1068.4 287.1 1068.7 289.3 1069.0 287.9 1069.3 287.7 1069.5 281.9 1069.8 281.7 1070.1 287.7 1070.4 285.7 1070.6 286.1 1070.9 286.0 1071.2 285.2 1071.5 285.9 1071.7 287.3 1072.0 284.2 1072.3 281.8 1072.6 279.2 1072.8 285.7 1073.1 288.0 1073.4 287.0 1073.7 288.0 1073.9 288.7 1074.2 287.8 1074.5 289.0 1074.8 284.9 1075.0 280.4 1075.3 274.4 1075.6 281.4 1075.9 286.9 1076.1 288.6 1076.4 288.5 1076.7 286.1 1077.0 289.2 1077.2 289.3 1077.5 288.4 1077.8 289.4 1078.1 288.7 1078.3 289.3 1078.6 282.5 1078.9 280.3 1079.2 289.0 1079.4 287.4 1079.7 289.9 1080.0 288.8 1080.2 289.4 1080.5 287.4 1080.8 289.1 1081.1 288.6 1081.3 286.9 1081.6 288.2 1081.9 287.3 1082.2 281.7 1082.4 279.8 1082.7 280.5 1083.0 279.5 1083.3 286.7 1083.5 286.0 1083.8 283.4 1084.1 284.8 1084.4 284.9 1084.6 284.1 1084.9 284.7 1085.2 284.5 1085.5 284.0 1085.7 284.2 1086.0 282.4 1086.3 272.5 1086.6 261.1 1086.8 249.0 1087.1 243.3 1087.4 242.4 1087.7 244.5 1087.9 247.9 1088.2 245.9 1088.5 245.8 1088.8 246.3 1089.0 244.7 1089.3 243.8 1089.6 244.2 1089.9 247.1 1090.1 247.4 1090.4 241.5 1090.7 243.7 1091.0 243.0 1091.2 243.6 1091.5 243.9 1091.8 243.6 1092.1 237.1 1092.3 240.9 1092.6 240.9 1092.9 240.1 1093.2 238.8 1093.4 239.3 1093.7 240.3 1094.0 237.5 1094.3 236.6 1094.5 235.9 1094.8 240.4 1095.1 235.8 1095.4 240.5 1095.6 240.8 1095.9 239.7 1096.2 241.6 1096.5 241.5 1096.7 238.5 1097.0 237.4 1097.3 236.2 1097.5 238.5 1097.8 239.9 1098.1 236.7 1098.4 231.9 1098.6 235.9 1098.9 234.8 1099.2 234.5 1099.5 236.8 1099.7 236.4 1100.0 237.7 1100.3 237.3 1100.6 238.5 1100.8 237.8 1101.1 237.7 1101.4 236.3 1101.7 239.8 1101.9 241.0 1102.2 241.6 1102.5 238.4 1102.8 242.4 1103.0 239.2 1103.3 243.6 1103.6 243.3 1103.9 241.7 1104.1 245.8 1104.4 245.1 1104.7 242.4 1105.0 243.6 1105.2 244.4 1105.5 244.1 1105.8 242.2 1106.1 243.3 1106.3 241.7 1106.6 242.1 1106.9 241.2 1107.2 242.5 1107.4 241.8 1107.7 240.3 1108.0 242.8 1108.3 238.4 1108.5 244.5 1108.8 242.0 1109.1 241.5 1109.4 240.9 1109.6 244.5 1109.9 240.6 1110.2 245.2 1110.5 242.4 1110.7 244.1 1111.0 245.9 1111.3 240.8 1111.6 241.6 1111.8 245.3 1112.1 240.6 1112.4 240.7 1112.7 242.8 1112.9 243.2 1113.2 243.7 1113.5 243.9 1113.8 242.7 1114.0 243.9 1114.3 247.9 1114.6 250.0 1114.8 249.7 1115.1 248.6 1115.4 250.0 1115.7 252.2 1115.9 249.7 1116.2 249.2 1116.5 250.4 1116.8 252.0 1117.0 251.1 1117.3 244.5 1117.6 249.7 1117.9 250.4 1118.1 252.9 1118.4 253.1 1118.7 252.3 1119.0 255.9 1119.2 256.6 1119.5 259.3 1119.8 258.7 1120.1 266.6 1120.3 274.2 1120.6 281.0 1120.9 290.3 1121.2 299.6 1121.4 304.1 1121.7 302.2 1122.0 301.1 1122.3 299.6 1122.5 302.2 1122.8 301.7 1123.1 302.2 1123.4 300.4 1123.6 302.2 1123.9 304.5 1124.2 303.6 1124.5 304.4 1124.7 301.6 1125.0 308.2 1125.3 307.0 1125.6 305.4 1125.8 302.1 1126.1 307.2 1126.4 304.7 1126.7 303.6 1126.9 301.3 1127.2 302.6 1127.5 302.1 1127.8 302.0 1128.0 302.3 1128.3 295.8 1128.6 302.7 1128.9 302.9 1129.1 301.1 1129.4 302.9 1129.7 298.6 1130.0 302.8 1130.2 301.4 1130.5 306.1 1130.8 303.9 1131.1 298.8 1131.3 307.2 1131.6 304.0 1131.9 304.3 1132.1 299.9 1132.4 304.8 1132.7 298.8 1133.0 307.3 1133.2 304.0 1133.5 306.9 1133.8 304.7 1134.1 305.4 1134.3 306.8 1134.6 306.3 1134.9 310.9 1135.2 311.6 1135.4 312.1 1135.7 310.3 1136.0 311.7 1136.3 306.7 1136.5 309.9 1136.8 313.8 1137.1 313.3 1137.4 309.3 1137.6 307.3 1137.9 307.5 1138.2 309.4 1138.5 307.9 1138.7 307.3 1139.0 309.1 1139.3 309.4 1139.6 305.9 1139.8 313.0 1140.1 308.5 1140.4 305.8 1140.7 310.1 1140.9 309.1 1141.2 307.6 1141.5 307.2 1141.8 306.2 1142.0 305.7 1142.3 310.7 1142.6 311.7 1142.9 310.7 1143.1 310.1 1143.4 309.5 1143.7 304.3 1144.0 302.9 1144.2 307.2 1144.5 307.4 1144.8 309.9 1145.1 311.4 1145.3 309.0 1145.6 304.7 1145.9 308.1 1146.2 306.4 1146.4 303.4 1146.7 304.0 1147.0 305.7 1147.3 308.1 1147.5 305.5 1147.8 316.1 1148.1 312.7 1148.3 311.1 1148.6 309.8 1148.9 315.5 1149.2 310.9 1149.4 309.1 1149.7 305.9 1150.0 312.3 1150.3 314.4 1150.5 311.0 1150.8 309.5 1151.1 308.5 1151.4 313.0 1151.6 314.7 1151.9 316.7 1152.2 315.2 1152.5 317.1 1152.7 313.0 1153.0 311.8 1153.3 311.4 1153.6 309.7 1153.8 307.1 1154.1 302.0 1154.4 301.1 1154.7 295.9 1154.9 301.7 1155.2 296.7 1155.5 296.3 1155.8 291.6 1156.0 295.9 1156.3 289.5 1156.6 295.3 1156.9 293.2 1157.1 294.8 1157.4 290.9 1157.7 295.2 1158.0 296.3 1158.2 293.8 1158.5 295.9 1158.8 296.4 1159.1 292.6 1159.3 300.8 1159.6 301.4 1159.9 301.4 1160.2 299.4 1160.4 298.3 1160.7 294.7 1161.0 295.2 1161.3 296.6 1161.5 296.8 1161.8 291.5 1162.1 292.8 1162.4 290.6 1162.6 289.2 1162.9 288.1 1163.2 288.2 1163.5 287.1 1163.7 283.1 1164.0 283.5 1164.3 281.3 1164.6 280.1 1164.8 277.5 1165.1 279.1 1165.1 289.5 1164.8 290.1 1164.6 291.0 1164.3 292.6 1164.0 293.1 1163.7 294.3 1163.5 297.9 1163.2 302.1 1162.9 300.5 1162.6 302.8 1162.4 305.3 1162.1 306.1 1161.8 305.4 1161.5 312.5 1161.3 307.3 1161.0 311.3 1160.7 313.7 1160.4 313.4 1160.2 312.7 1159.9 318.6 1159.6 315.4 1159.3 318.4 1159.1 318.2 1158.8 316.6 1158.5 315.0 1158.2 315.6 1158.0 314.2 1157.7 315.3 1157.4 316.4 1157.1 315.9 1156.9 315.0 1156.6 318.4 1156.3 314.8 1156.0 315.2 1155.8 314.4 1155.5 318.4 1155.2 319.8 1154.9 322.3 1154.7 324.8 1154.4 328.4 1154.1 328.6 1153.8 336.6 1153.6 331.7 1153.3 335.8 1153.0 338.2 1152.7 339.2 1152.5 346.7 1152.2 337.8 1151.9 340.6 1151.6 338.8 1151.4 336.1 1151.1 337.5 1150.8 336.9 1150.5 344.9 1150.3 343.8 1150.0 336.2 1149.7 335.9 1149.4 339.3 1149.2 338.2 1148.9 342.1 1148.6 337.3 1148.3 337.5 1148.1 338.2 1147.8 339.2 1147.5 340.7 1147.3 341.2 1147.0 339.9 1146.7 334.7 1146.4 335.1 1146.2 334.5 1145.9 337.3 1145.6 333.5 1145.3 339.6 1145.1 332.9 1144.8 334.9 1144.5 331.4 1144.2 328.5 1144.0 327.6 1143.7 330.6 1143.4 330.1 1143.1 333.8 1142.9 332.4 1142.6 334.8 1142.3 330.2 1142.0 332.8 1141.8 329.7 1141.5 331.5 1141.2 331.4 1140.9 330.3 1140.7 333.1 1140.4 332.5 1140.1 329.5 1139.8 332.0 1139.6 330.0 1139.3 331.5 1139.0 328.6 1138.7 328.5 1138.5 332.6 1138.2 330.2 1137.9 332.4 1137.6 331.0 1137.4 336.0 1137.1 333.8 1136.8 337.1 1136.5 329.1 1136.3 329.8 1136.0 332.5 1135.7 331.6 1135.4 332.2 1135.2 331.2 1134.9 332.9 1134.6 329.7 1134.3 331.0 1134.1 331.5 1133.8 328.7 1133.5 324.7 1133.2 328.9 1133.0 326.9 1132.7 323.0 1132.4 324.1 1132.1 321.4 1131.9 323.9 1131.6 323.7 1131.3 326.4 1131.1 321.1 1130.8 324.7 1130.5 324.7 1130.2 321.4 1130.0 321.4 1129.7 321.1 1129.4 320.4 1129.1 318.6 1128.9 319.4 1128.6 319.8 1128.3 317.0 1128.0 320.3 1127.8 318.2 1127.5 318.5 1127.2 322.3 1126.9 320.9 1126.7 325.0 1126.4 322.4 1126.1 327.0 1125.8 323.2 1125.6 323.4 1125.3 323.4 1125.0 322.4 1124.7 321.1 1124.5 324.9 1124.2 320.3 1123.9 317.7 1123.6 316.8 1123.4 316.7 1123.1 321.1 1122.8 316.5 1122.5 315.7 1122.3 317.7 1122.0 316.1 1121.7 316.7 1121.4 315.3 1121.2 317.3 1120.9 305.2 1120.6 297.4 1120.3 292.0 1120.1 283.0 1119.8 281.5 1119.5 274.3 1119.2 276.6 1119.0 278.7 1118.7 270.1 1118.4 272.1 1118.1 268.9 1117.9 269.9 1117.6 270.8 1117.3 267.8 1117.0 267.8 1116.8 271.6 1116.5 270.9 1116.2 273.7 1115.9 269.4 1115.7 268.0 1115.4 271.8 1115.1 266.5 1114.8 266.7 1114.6 267.1 1114.3 269.4 1114.0 266.5 1113.8 266.1 1113.5 270.2 1113.2 264.4 1112.9 261.7 1112.7 261.9 1112.4 259.9 1112.1 262.2 1111.8 263.9 1111.6 264.4 1111.3 261.3 1111.0 265.3 1110.7 264.8 1110.5 266.0 1110.2 263.4 1109.9 262.1 1109.6 260.1 1109.4 260.2 1109.1 262.3 1108.8 262.3 1108.5 260.0 1108.3 258.1 1108.0 260.1 1107.7 258.8 1107.4 256.6 1107.2 261.9 1106.9 260.5 1106.6 259.4 1106.3 258.7 1106.1 260.6 1105.8 263.1 1105.5 263.0 1105.2 259.7 1105.0 260.4 1104.7 260.6 1104.4 261.1 1104.1 264.6 1103.9 263.1 1103.6 259.9 1103.3 260.1 1103.0 258.1 1102.8 259.9 1102.5 259.1 1102.2 257.4 1101.9 259.4 1101.7 254.4 1101.4 254.2 1101.1 254.1 1100.8 252.3 1100.6 254.7 1100.3 258.3 1100.0 257.9 1099.7 257.0 1099.5 254.8 1099.2 251.3 1098.9 252.9 1098.6 255.2 1098.4 253.8 1098.1 257.2 1097.8 257.7 1097.5 253.9 1097.3 255.7 1097.0 253.4 1096.7 261.7 1096.5 258.4 1096.2 256.1 1095.9 255.6 1095.6 255.0 1095.4 259.1 1095.1 260.3 1094.8 254.9 1094.5 256.3 1094.3 259.9 1094.0 258.7 1093.7 257.6 1093.4 258.5 1093.2 253.2 1092.9 254.8 1092.6 258.8 1092.3 258.6 1092.1 256.5 1091.8 256.6 1091.5 261.0 1091.2 257.5 1091.0 257.9 1090.7 259.6 1090.4 260.7 1090.1 260.7 1089.9 260.7 1089.6 259.8 1089.3 260.4 1089.0 260.5 1088.8 261.6 1088.5 260.2 1088.2 262.6 1087.9 261.7 1087.7 259.9 1087.4 257.9 1087.1 258.0 1086.8 265.8 1086.6 270.5 1086.3 281.0 1086.0 290.3 1085.7 291.4 1085.5 290.6 1085.2 290.0 1084.9 288.6 1084.6 290.0 1084.4 289.5 1084.1 291.7 1083.8 290.6 1083.5 291.6 1083.3 293.6 1083.0 291.1 1082.7 291.1 1082.4 292.7 1082.2 292.2 1081.9 292.9 1081.6 291.9 1081.3 291.8 1081.1 293.0 1080.8 292.3 1080.5 292.2 1080.2 293.3 1080.0 292.9 1079.7 293.8 1079.4 293.6 1079.2 295.6 1078.9 294.2 1078.6 293.6 1078.3 299.3 1078.1 298.9 1077.8 295.1 1077.5 293.6 1077.2 294.4 1077.0 293.0 1076.7 293.5 1076.4 293.5 1076.1 292.9 1075.9 292.8 1075.6 295.6 1075.3 292.4 1075.0 293.9 1074.8 293.0 1074.5 293.5 1074.2 292.7 1073.9 291.9 1073.7 294.8 1073.4 293.0 1073.1 293.7 1072.8 293.0 1072.6 291.8 1072.3 290.8 1072.0 292.5 1071.7 292.4 1071.5 303.7 1071.2 305.1 1070.9 292.2 1070.6 292.7 1070.4 290.8 1070.1 291.8 1069.8 292.3 1069.5 292.1 1069.3 293.7 1069.0 295.4 1068.7 298.5 1068.4 291.8 1068.2 294.0 1067.9 294.9 1067.6 293.0 1067.3 294.5 1067.1 292.4 1066.8 293.3 1066.5 293.8 1066.2 292.0 1066.0 300.9 1065.7 305.5 1065.4 296.5 1065.1 291.9 1064.9 301.2 1064.6 300.0 1064.3 291.0 1064.0 290.8 1063.8 290.4 1063.5 290.6 1063.2 291.7 1063.0 300.8 1062.7 299.7 1062.4 290.3 1062.1 290.2 1061.9 294.4 1061.6 302.1 1061.3 301.2 1061.0 292.6 1060.8 293.1 1060.5 293.1 1060.2 293.6 1059.9 292.1 1059.7 292.5 1059.4 291.9 1059.1 293.1 1058.8 292.2 1058.6 292.9 1058.3 293.3 1058.0 293.9 1057.7 292.2 1057.5 292.4 1057.2 295.5 1056.9 292.6 1056.6 293.0 1056.4 292.4 1056.1 293.3 1055.8 292.7 1055.5 293.6 1055.3 293.5 1055.0 295.5 1054.7 293.4 1054.4 296.7 1054.2 295.7 1053.9 294.4 1053.6 297.2 1053.3 299.6 1053.1 295.7 1052.8 296.0 1052.5 293.8 1052.2 297.5 1052.0 295.9 1051.7 295.1 1051.4 293.7 1051.1 295.1 1050.9 297.1 1050.6 292.6 1050.3 293.5 1050.0 295.4 1049.8 297.3 1049.5 294.4 1049.2 292.4 1048.9 294.0 1048.7 292.5 1048.4 292.5 1048.1 296.0 1047.8 293.0 1047.6 292.0 1047.3 293.2 1047.0 292.7 1046.7 292.9 1046.5 292.8 1046.2 292.3 1045.9 294.2 1045.7 294.5 1045.4 292.8 1045.1 295.8 1044.8 290.9 1044.6 290.8 1044.3 291.6 1044.0 290.1 1043.7 292.8 1043.5 294.0 1043.2 291.6 1042.9 291.8 1042.6 290.5 1042.4 290.9 1042.1 292.6 1041.8 291.2 1041.5 291.2 1041.3 294.9 1041.0 294.5 1040.7 293.4 1040.4 292.2 1040.2 291.9 1039.9 293.2 1039.6 292.0 1039.3 293.6 1039.1 292.6 1038.8 291.8 1038.5 292.1 1038.2 292.1 1038.0 292.8 1037.7 293.7 1037.4 291.6 1037.1 293.4 1036.9 290.8 1036.6 291.6 1036.3 288.8 1036.0 291.8 1035.8 289.3 1035.5 290.7 1035.2 291.0 1034.9 287.5 1034.7 288.0 1034.4 287.8 1034.1 288.9 1033.8 288.9 1033.6 289.8 1033.3 291.0 1033.0 287.3 1032.7 291.0 1032.5 288.2 1032.2 288.0 1031.9 288.4 1031.6 289.2 1031.4 288.6 1031.1 289.9 1030.8 290.9 1030.5 289.4 1030.3 291.5 1030.0 291.8 1029.7 291.4 1029.4 291.7 1029.2 292.1 1028.9 294.0 1028.6 292.0 1028.4 291.0 1028.1 292.5 1027.8 291.2 1027.5 289.5 1027.3 290.5 1027.0 292.2 1026.7 288.8 1026.4 289.1 1026.2 291.6 1025.9 290.6 1025.6 289.3 1025.3 292.7 1025.1 290.0 1024.8 290.7 1024.5 292.6 1024.2 292.1 1024.0 293.3 1023.7 292.9 1023.4 291.5 1023.1 293.9 1022.9 291.0 1022.6 290.3 1022.3 290.1 1022.0 290.4 1021.8 291.4 1021.5 290.9 1021.2 293.2 1020.9 290.0 1020.7 292.5 1020.4 291.7 1020.1 292.0 1019.8 294.6 1019.6 292.5 1019.3 293.1 1019.0 293.4 1018.7 293.2 1018.5 296.2 1018.2 293.3 1017.9 292.5 1017.6 295.8 1017.4 293.8 1017.1 289.2 1016.8 288.6 1016.5 288.2 1016.3 286.6 1016.0 289.7 1015.7 288.2 1015.4 288.4 1015.2 290.5 1014.9 289.5 1014.6 288.5 1014.3 289.1 1014.1 291.0 1013.8 288.4 1013.5 289.6 1013.2 289.0 1013.0 291.6 1012.7 290.1 1012.4 289.8 1012.2 290.9 1011.9 290.2 1011.6 288.6 1011.3 287.8 1011.1 291.2 1010.8 288.8 1010.5 288.8 1010.2 289.2 1010.0 291.1 1009.7 291.4 1009.4 291.0 1009.1 287.4 1008.9 288.0 1008.6 290.8 1008.3 291.1 1008.0 290.9 1007.8 293.2 1007.5 289.6 1007.2 290.0 1006.9 291.9 1006.7 291.3 1006.4 290.3 1006.1 290.6 1005.8 294.4 1005.6 293.7 1005.3 289.5 1005.0 289.5 1004.7 293.0 1004.5 288.9 1004.2 290.3 1003.9 288.4 1003.6 290.9 1003.4 289.0 1003.1 290.6 1002.8 286.7 1002.5 287.2 1002.3 288.7 1002.0 292.2 1001.7 289.0 1001.4 285.9 1001.2 285.3 1000.9 290.4 1000.6 289.5 1000.3 285.8 1000.1 286.6 999.8 286.9 999.5 292.5 999.2 288.3 999.0 287.5 998.7 288.7 998.4 290.7 998.1 297.8 997.9 311.9 997.6 323.6 997.3 330.0 997.0 330.7 996.8 331.4 996.5 334.0 996.2 332.1 995.9 334.4 995.7 333.5 995.4 331.9 995.1 330.9 994.9 331.3 994.6 330.7 994.3 334.5 994.0 332.7 993.8 333.8 993.5 336.8 993.2 337.3 992.9 343.3 992.7 346.0 992.4 349.0 992.1 346.3 991.8 348.4 991.6 354.9 991.3 348.1 991.0 354.4 990.7 358.7 990.5 356.1 990.2 363.8 989.9 362.7 989.6 357.8 989.4 363.7 989.1 361.8 988.8 365.9 988.5 369.9 988.3 370.5 988.0 373.7 987.7 368.7 987.4 366.7 987.2 361.9 986.9 363.3 986.6 365.2 986.3 360.0 986.1 356.9 985.8 364.3 985.5 355.8 985.2 353.8 985.0 353.0 984.7 354.4 984.4 356.2 984.1 353.5 983.9 352.2 983.6 359.2 983.3 351.7 983.0 351.8 982.8 356.8 982.5 349.9 982.2 347.5 981.9 347.6 981.7 350.7 981.4 342.7 981.1 343.2 980.8 343.4 980.6 341.3 980.3 342.1 980.0 343.9 979.7 339.4 979.5 340.7 979.2 339.4 978.9 340.9 978.6 344.1 978.4 342.3 978.1 340.9 977.8 341.7 977.6 342.5 977.3 344.0 977.0 341.6 976.7 341.9 976.5 342.2 976.2 340.7 975.9 342.8 975.6 339.7 975.4 339.8 975.1 337.7 974.8 339.8 974.5 338.0 974.3 339.9 974.0 337.3 973.7 338.8 973.4 335.4 973.2 334.3 972.9 335.6 972.6 334.1 972.3 334.7 972.1 337.6 971.8 334.9 971.5 336.0 971.2 307.0 971.0 271.9 970.7 260.1 970.4 257.2 970.1 261.3 969.9 260.5 969.6 263.2 969.3 265.3 969.0 267.5 968.8 259.1 968.5 268.1 968.2 265.6 967.9 266.4 967.7 262.9 967.4 267.4 967.1 269.0 966.8 269.3 966.6 270.0 966.3 267.6 966.0 269.1 965.7 273.6 965.5 272.4 965.2 267.7 964.9 268.0 964.6 269.2 964.4 270.5 964.1 265.5 963.8 264.7 963.5 269.0 963.3 270.5 963.0 270.7 962.7 272.4 962.4 268.0 962.2 270.1 961.9 271.6 961.6 275.3 961.3 275.0 961.1 271.0 960.8 273.0 960.5 273.3 960.3 273.5 960.0 271.9 959.7 272.2 959.4 268.5 959.2 271.5 958.9 270.9 958.6 264.6 958.3 265.4 958.1 266.5 957.8 269.0 957.5 271.2 957.2 269.0 957.0 269.9 956.7 271.3 956.4 269.9 956.1 270.4 955.9 271.8 955.6 271.2 955.3 271.9 955.0 272.5 954.8 273.1 954.5 273.0 954.2 271.2 953.9 271.3 953.7 269.6 953.4 268.7 953.1 270.2 952.8 268.7 952.6 271.1 952.3 269.7 952.0 270.8 951.7 274.7 951.5 266.1 951.2 271.2 950.9 268.1 950.6 270.4 950.4 271.0 950.1 273.4 949.8 269.9 949.5 273.3 949.3 269.1 949.0 268.5 948.7 271.0 948.4 273.3 948.2 274.8 947.9 270.2 947.6 268.6 947.3 266.6 947.1 268.3 946.8 267.6 946.5 268.7 946.2 263.6 946.0 265.3 945.7 263.9 945.4 268.7 945.1 265.0 944.9 265.6 944.6 263.7 944.3 262.5 944.1 265.3 943.8 265.1 943.5 265.0 943.2 261.2 943.0 260.9 942.7 261.5 942.4 261.0 942.1 265.4 941.9 263.0 941.6 263.7 941.3 266.1 941.0 265.1 940.8 264.0 940.5 263.0 940.2 265.5 939.9 268.1 939.7 266.3 939.4 266.1 939.1 265.4 938.8 264.8 938.6 268.9 938.3 265.4 938.0 266.6 937.7 266.9 937.5 263.7 937.2 265.2 936.9 271.6 936.6 265.1 936.4 264.3 936.1 270.1 935.8 264.8 935.5 266.9 935.3 263.6 935.0 266.2 934.7 268.4 934.4 266.4 934.2 269.6 933.9 264.9 933.6 264.3 933.3 267.7 933.1 261.7 932.8 266.2 932.5 261.7 932.2 263.3 932.0 265.3 931.7 262.7 931.4 260.7 931.1 262.3 930.9 260.4 930.6 270.4 930.3 265.0 930.0 263.0 929.8 261.4 929.5 263.2 929.2 264.1 928.9 266.3 928.7 269.9 928.4 271.3 928.1 266.9 927.8 267.7 927.6 269.3 927.3 267.2 927.0 269.3 926.8 278.3 926.5 314.9 926.2 345.7 925.9 344.6 925.7 341.7 925.4 343.7 925.1 341.2 924.8 337.7 924.6 342.2 924.3 338.7 924.0 345.1 923.7 341.0 923.5 344.3 923.2 340.5 922.9 345.2 922.6 342.1 922.4 341.2 922.1 342.4 921.8 340.8 921.5 345.0 921.3 342.3 921.0 343.4 920.7 338.1 920.4 342.0 920.2 337.5 919.9 339.5 919.6 336.6 919.3 340.2 919.1 335.4 918.8 335.0 918.5 333.8 918.2 342.0 918.0 335.4 917.7 335.4 917.4 334.5 917.1 333.5 916.9 335.3 916.6 335.1 916.3 335.1 916.0 334.3 915.8 337.7 915.5 336.2 915.2 341.5 914.9 339.2 914.7 339.9 914.4 337.2 914.1 336.5 913.8 339.8 913.6 339.9 913.3 337.0 913.0 339.4 912.7 337.4 912.5 334.5 912.2 340.0 911.9 336.5 911.6 336.3 911.4 337.2 911.1 339.0 910.8 343.5 910.5 342.2 910.3 343.4 910.0 341.4 909.7 339.6 909.5 344.0 909.2 343.0 908.9 338.9 908.6 336.1 908.4 345.5 908.1 341.3 907.8 341.3 907.5 339.0 907.3 339.6 907.0 338.5 906.7 337.6 906.4 339.0 906.2 336.2 905.9 341.4 905.6 340.6 905.3 339.2 905.1 341.9 904.8 341.4 904.5 341.0 904.2 339.9 904.0 340.4 903.7 342.9 903.4 341.8 903.1 341.6 902.9 341.0 902.6 338.9 902.3 342.0 902.0 338.1 901.8 338.3 901.5 337.9 901.2 341.7 900.9 342.2 900.7 344.2 900.4 342.2 900.1 341.5 899.8 344.8 899.6 342.0 899.3 342.9 899.0 342.2 898.7 344.8 898.5 347.1 898.2 347.3 897.9 347.4 897.6 342.3 897.4 339.7 897.1 339.1 896.8 343.0 896.5 346.7 896.3 346.9 896.0 346.8 895.7 350.0 895.4 347.2 895.2 349.3 894.9 345.3 894.6 350.1 894.3 347.1 894.1 348.6 893.8 349.5 893.5 349.3 893.3 353.5 893.0 349.8 892.7 345.9 892.4 346.2 892.2 347.6 891.9 347.3 891.6 348.0 891.3 348.2 891.1 348.0 890.8 350.5 890.5 347.6 890.2 346.5 890.0 343.4 889.7 345.7 889.4 342.4 889.1 342.0 888.9 341.5 888.6 344.3 888.3 345.3 888.0 337.1 887.8 336.8 887.5 338.8 887.2 343.0 886.9 337.1 886.7 341.0 886.4 339.6 886.1 342.6 885.8 345.4 885.6 345.8 885.3 339.2 885.0 342.0 884.7 341.8 884.5 341.3 884.2 341.9 883.9 339.8 883.6 338.4 883.4 336.7 883.1 337.9 882.8 333.7 882.5 332.8 882.3 335.3 882.0 336.3 881.7 330.4 881.4 329.3 881.2 326.0 880.9 313.5 880.6 297.4 880.3 289.2 880.1 288.7 879.8 289.2 879.5 286.6 879.2 286.9 879.0 288.0 878.7 289.4 878.4 288.6 878.1 290.1 877.9 288.5 877.6 290.4 877.3 290.1 877.0 290.0 876.8 289.7 876.5 290.7 876.2 289.9 876.0 289.5 875.7 290.4 875.4 291.0 875.1 292.1 874.9 288.5 874.6 291.1 874.3 288.9 874.0 290.3 873.8 287.7 873.5 290.7 873.2 288.8 872.9 290.9 872.7 292.9 872.4 288.8 872.1 291.2 871.8 289.3 871.6 291.7 871.3 290.3 871.0 288.3 870.7 290.9 870.5 289.2 870.2 292.4 869.9 291.9 869.6 291.5 869.4 291.1 869.1 294.2 868.8 291.2 868.5 291.0 868.3 292.3 868.0 292.2 867.7 290.3 867.4 291.5 867.2 290.1 866.9 290.3 866.6 292.2 866.3 291.4 866.1 292.7 865.8 291.0 865.5 294.4 865.2 289.8 865.0 290.1 864.7 289.9 864.4 293.3 864.1 291.3 863.9 292.1 863.6 288.0 863.3 290.4 863.0 288.0 862.8 291.9 862.5 289.6 862.2 289.1 861.9 292.5 861.7 291.8 861.4 291.0 861.1 293.7 860.8 295.5 860.6 291.9 860.3 294.1 860.0 293.7 859.7 290.6 859.5 291.3 859.2 291.6 858.9 292.5 858.7 291.7 858.4 291.5 858.1 291.5 857.8 290.0 857.6 290.1 857.3 289.8 857.0 290.6 856.7 290.3 856.5 290.0 856.2 291.2 855.9 289.1 855.6 289.0 855.4 288.3 855.1 289.0 854.8 288.2 854.5 288.6 854.3 287.5 854.0 289.5 853.7 289.6 853.4 289.9 853.2 291.7 852.9 291.0 852.6 289.6 852.3 292.4 852.1 290.8 851.8 291.8 851.5 294.2 851.2 291.6 851.0 291.9 850.7 293.9 850.4 290.3 850.1 298.8 849.9 299.4 849.6 291.5 849.3 291.5 849.0 291.1 848.8 290.4 848.5 290.2 848.2 291.4 847.9 290.2 847.7 303.6 847.4 303.2 847.1 289.8 846.8 291.2 846.6 290.2 846.3 289.5 846.0 290.1 845.7 312.7 845.5 313.0 845.2 288.8 844.9 288.2 844.6 289.7 844.4 288.0 844.1 288.5 843.8 288.8 843.5 288.9 843.3 290.1 843.0 289.8 842.7 289.1 842.4 288.4 842.2 289.5 841.9 290.0 841.6 288.5 841.4 290.4 841.1 288.3 840.8 289.8 840.5 291.3 840.3 289.6 840.0 290.8 839.7 288.5 839.4 288.7 839.2 289.9 838.9 289.6 838.6 288.1 838.3 292.5 838.1 289.4 837.8 289.5 837.5 289.4 837.2 288.0 837.0 288.9 836.7 288.1 836.4 288.6 836.1 289.5 835.9 289.0 835.6 289.2 835.3 290.2 835.0 291.0 834.8 291.7 834.5 289.5 834.2 289.6 833.9 290.1 833.7 290.3 833.4 291.9 833.1 290.5 832.8 291.0 832.6 290.2 832.3 296.3 832.0 305.3 831.7 309.0 831.5 310.1 831.2 310.3 830.9 309.5 830.6 311.2 830.4 311.9 830.1 309.7 829.8 308.8 829.5 310.2 829.3 311.4 829.0 312.3 828.7 311.5 828.4 310.6 828.2 312.5 827.9 310.3 827.6 310.4 827.3 312.5 827.1 315.1 826.8 314.6 826.5 314.1 826.2 315.2 826.0 315.9 825.7 315.6 825.4 316.1 825.2 315.7 824.9 317.8 824.6 317.1 824.3 318.8 824.1 317.6 823.8 316.9 823.5 320.3 823.2 319.7 823.0 320.9 822.7 319.7 822.4 318.6 822.1 318.7 821.9 321.3 821.6 319.7 821.3 320.7 821.0 323.6 820.8 323.9 820.5 329.2 820.2 323.7 819.9 325.4 819.7 323.1 819.4 323.2 819.1 320.3 818.8 323.8 818.6 322.0 818.3 323.6 818.0 323.4 817.7 324.8 817.5 331.6 817.2 324.4 816.9 322.3 816.6 322.4 816.4 321.0 816.1 321.1 815.8 322.5 815.5 321.5 815.3 319.1 815.0 321.2 814.7 322.3 814.4 317.4 814.2 320.0 813.9 318.3 813.6 316.6 813.3 319.1 813.1 317.1 812.8 318.4 812.5 319.3 812.2 318.1 812.0 320.0 811.7 316.6 811.4 317.4 811.1 319.6 810.9 317.8 810.6 317.6 810.3 318.6 810.0 314.4 809.8 313.1 809.5 312.6 809.2 311.7 808.9 311.3 808.7 308.2 808.4 305.1Z" fill="#0072bd"/>
<path d="M808.4 297.6H881.23M1001.61 297.6H1090.79M1119.77 297.6H1165.1" stroke="#e3ef9a" stroke-width="1.1" fill="none"/>
<path d="M881.23 297.6 L881.23 337.15 L926.56 337.15 L926.56 258.05 L971.14 258.05 L971.14 337.15 L1001.61 337.15 L1001.61 297.6M1090.79 297.6 L1090.79 258.05 L1119.77 258.05 L1119.77 297.6" stroke="#e9e84f" stroke-width="1.2" fill="none"/>
<path d="M808.4 303.3 808.7 304.3 808.9 305.7 809.2 307.5 809.5 308.6 809.8 309.4 810.0 308.1 810.3 307.2 810.6 307.1 810.9 307.8 811.1 306.5 811.4 308.2 811.7 307.1 812.0 308.9 812.2 310.7 812.5 312.1 812.8 311.7 813.1 312.1 813.3 311.4 813.6 311.2 813.9 311.7 814.2 313.1 814.4 311.6 814.7 312.0 815.0 312.8 815.3 313.1 815.5 315.0 815.8 313.6 816.1 313.1 816.4 315.3 816.6 315.4 816.9 315.4 817.2 314.0 817.5 312.7 817.7 313.4 818.0 314.6 818.3 312.0 818.6 311.9 818.8 311.8 819.1 312.8 819.4 312.3 819.7 312.4 819.9 310.9 820.2 312.7 820.5 312.5 820.8 312.4 821.0 311.6 821.3 311.9 821.6 311.5 821.9 311.2 822.1 312.8 822.4 312.4 822.7 312.1 823.0 311.7 823.2 312.8 823.5 314.3 823.8 316.0 824.1 314.8 824.3 315.9 824.6 316.1 824.9 315.8 825.2 315.9 825.4 315.2 825.7 314.2 826.0 314.1 826.2 311.6 826.5 312.1 826.8 311.9 827.1 311.1 827.3 311.4 827.6 310.9 827.9 310.1 828.2 312.0 828.4 311.5 828.7 311.4 829.0 310.8 829.3 311.7 829.5 310.5 829.8 309.4 830.1 307.6 830.4 304.2 830.6 306.1 830.9 305.0 831.2 300.9 831.5 302.1 831.7 300.8 832.0 300.2 832.3 302.5 832.6 298.6 832.8 297.0 833.1 297.5 833.4 294.8 833.7 295.4 833.9 293.1 834.2 293.3 834.5 294.4 834.8 295.3 835.0 293.1 835.3 292.9 835.6 291.4 835.9 292.7 836.1 291.7 836.4 291.1 836.7 289.2 837.0 288.7 837.2 290.9 837.5 291.0 837.8 290.9 838.1 290.6 838.3 290.1 838.6 291.7 838.9 292.5 839.2 291.5 839.4 292.7 839.7 294.9 840.0 294.7 840.3 295.4 840.5 294.2 840.8 294.9 841.1 293.5 841.4 293.1 841.6 290.5 841.9 290.7 842.2 291.0 842.4 290.7 842.7 292.0 843.0 292.2 843.3 291.6 843.5 292.4 843.8 292.4 844.1 291.9 844.4 294.8 844.6 293.7 844.9 294.8 845.2 294.9 845.5 296.5 845.7 296.5 846.0 297.0 846.3 294.5 846.6 296.1 846.8 296.5 847.1 296.9 847.4 295.9 847.7 298.1 847.9 299.6 848.2 301.6 848.5 299.8 848.8 298.6 849.0 298.7 849.3 297.3 849.6 294.7 849.9 293.3 850.1 292.7 850.4 292.6 850.7 292.8 851.0 291.3 851.2 293.9 851.5 295.2 851.8 296.0 852.1 296.0 852.3 297.4 852.6 299.2 852.9 301.0 853.2 298.6 853.4 298.5 853.7 297.7 854.0 297.1 854.3 296.1 854.5 294.7 854.8 294.3 855.1 294.0 855.4 292.9 855.6 293.0 855.9 293.5 856.2 293.2 856.5 291.5 856.7 290.1 857.0 290.8 857.3 290.7 857.6 289.4 857.8 287.7 858.1 287.1 858.4 288.5 858.7 291.3 858.9 292.3 859.2 292.6 859.5 293.5 859.7 294.9 860.0 296.0 860.3 294.4 860.6 292.5 860.8 292.1 861.1 292.8 861.4 292.4 861.7 292.5 861.9 291.5 862.2 292.0 862.5 291.7 862.8 291.0 863.0 289.6 863.3 291.1 863.6 290.2 863.9 290.9 864.1 291.5 864.4 291.6 864.7 291.9 865.0 292.1 865.2 291.5 865.5 290.1 865.8 290.9 866.1 290.3 866.3 290.7 866.6 291.5 866.9 291.3 867.2 289.6 867.4 291.8 867.7 289.4 868.0 290.7 868.3 290.1 868.5 289.8 868.8 291.2 869.1 293.1 869.4 293.4 869.6 294.3 869.9 291.7 870.2 291.2 870.5 289.0 870.7 288.0 871.0 287.8 871.3 285.8 871.6 284.8 871.8 286.8 872.1 287.5 872.4 288.3 872.7 288.1 872.9 288.4 873.2 289.2 873.5 291.9 873.8 289.2 874.0 288.7 874.3 290.2 874.6 289.3 874.9 287.2 875.1 286.5 875.4 284.9 875.7 287.9 876.0 289.1 876.2 286.6 876.5 287.7 876.8 289.6 877.0 291.0 877.3 292.6 877.6 291.9 877.9 291.0 878.1 293.1 878.4 291.4 878.7 291.6 879.0 290.3 879.2 288.5 879.5 286.7 879.8 286.6 880.1 287.7 880.3 290.3 880.6 289.4 880.9 291.2 881.2 290.6 881.4 293.5 881.7 293.2 882.0 292.0 882.3 290.6 882.5 290.1 882.8 291.1 883.1 292.7 883.4 291.0 883.6 291.7 883.9 292.6 884.2 293.5 884.5 294.4 884.7 293.1 885.0 292.2 885.3 291.2 885.6 290.9 885.8 290.9 886.1 291.3 886.4 290.7 886.7 289.5 886.9 290.7 887.2 292.6 887.5 295.1 887.8 293.1 888.0 292.6 888.3 293.7 888.6 294.2 888.9 293.4 889.1 291.9 889.4 290.9 889.7 292.0 890.0 293.0 890.2 292.7 890.5 293.9 890.8 295.7 891.1 297.9 891.3 296.8 891.6 297.8 891.9 297.2 892.2 299.3 892.4 298.8 892.7 299.8 893.0 299.6 893.3 300.1 893.5 297.8 893.8 297.7 894.1 296.7 894.3 297.6 894.6 295.3 894.9 294.5 895.2 294.8 895.4 295.8 895.7 295.3 896.0 295.1 896.3 294.4 896.5 294.2 896.8 295.5 897.1 295.8 897.4 296.3 897.6 297.0 897.9 295.6 898.2 295.1 898.5 295.9 898.7 293.8 899.0 292.9 899.3 292.3 899.6 289.6 899.8 290.8 900.1 292.6 900.4 291.3 900.7 292.6 900.9 293.1 901.2 292.7 901.5 295.3 901.8 296.6 902.0 294.0 902.3 295.0 902.6 295.1 902.9 294.2 903.1 294.9 903.4 295.2 903.7 292.7 904.0 295.1 904.2 295.0 904.5 294.9 904.8 294.9 905.1 294.9 905.3 295.2 905.6 296.7 905.9 294.5 906.2 294.3 906.4 293.5 906.7 293.5 907.0 293.9 907.3 294.8 907.5 294.9 907.8 296.8 908.1 297.7 908.4 300.5 908.6 300.4 908.9 301.5 909.2 299.9 909.5 301.7 909.7 301.5 910.0 302.6 910.3 300.1 910.5 302.3 910.8 301.0 911.1 300.6 911.4 299.2 911.6 299.9 911.9 299.4 912.2 300.0 912.5 298.7 912.7 300.2 913.0 301.2 913.3 300.0 913.6 298.3 913.8 298.0 914.1 297.3 914.4 296.7 914.7 294.7 914.9 294.5 915.2 292.9 915.5 291.7 915.8 290.2 916.0 290.0 916.3 289.5 916.6 290.3 916.9 289.3 917.1 289.1 917.4 290.2 917.7 290.2 918.0 289.9 918.2 289.8 918.5 288.3 918.8 287.0 919.1 288.6 919.3 288.0 919.6 287.5 919.9 286.4 920.2 285.2 920.4 286.1 920.7 286.9 921.0 287.1 921.3 286.3 921.5 285.5 921.8 285.9 922.1 287.6 922.4 287.1 922.6 286.7 922.9 285.4 923.2 285.8 923.5 287.2 923.7 288.4 924.0 291.0 924.3 292.1 924.6 291.6 924.8 293.9 925.1 294.7 925.4 294.8 925.7 296.0 925.9 294.3 926.2 297.0 926.5 299.6 926.8 299.9 927.0 301.8 927.3 304.5 927.6 304.0 927.8 304.0 928.1 302.5 928.4 304.0 928.7 302.4 928.9 301.6 929.2 299.6 929.5 298.5 929.8 299.0 930.0 297.9 930.3 295.7 930.6 296.5 930.9 296.5 931.1 295.7 931.4 294.1 931.7 293.7 932.0 296.6 932.2 296.3 932.5 296.5 932.8 296.3 933.1 297.2 933.3 298.3 933.6 297.5 933.9 295.5 934.2 295.8 934.4 295.4 934.7 295.1 935.0 294.9 935.3 294.8 935.5 296.2 935.8 294.5 936.1 295.3 936.4 294.3 936.6 292.0 936.9 292.1 937.2 291.8 937.5 290.4 937.7 292.0 938.0 290.0 938.3 291.8 938.6 293.5 938.8 293.6 939.1 294.1 939.4 293.7 939.7 293.0 939.9 294.3 940.2 292.2 940.5 293.9 940.8 293.0 941.0 292.8 941.3 294.1 941.6 294.5 941.9 294.1 942.1 294.0 942.4 292.9 942.7 294.0 943.0 295.4 943.2 295.8 943.5 297.6 943.8 297.0 944.1 297.2 944.3 296.8 944.6 297.0 944.9 296.0 945.1 294.1 945.4 292.4 945.7 293.0 946.0 294.9 946.2 295.2 946.5 293.2 946.8 293.0 947.1 293.1 947.3 292.3 947.6 292.9 947.9 292.6 948.2 293.2 948.4 294.6 948.7 295.6 949.0 295.6 949.3 297.1 949.5 296.0 949.8 296.1 950.1 295.4 950.4 295.3 950.6 294.1 950.9 294.9 951.2 293.7 951.5 293.8 951.7 293.0 952.0 291.7 952.3 291.6 952.6 292.2 952.8 290.9 953.1 290.4 953.4 290.6 953.7 289.0 953.9 289.2 954.2 289.3 954.5 288.2 954.8 289.9 955.0 289.1 955.3 288.3 955.6 289.4 955.9 290.5 956.1 290.0 956.4 293.2 956.7 294.3 957.0 294.7 957.2 296.6 957.5 296.5 957.8 295.9 958.1 297.5 958.3 295.3 958.6 295.6 958.9 297.1 959.2 297.0 959.4 299.6 959.7 299.6 960.0 300.5 960.3 302.8 960.5 301.4 960.8 302.7 961.1 302.8 961.3 301.8 961.6 303.7 961.9 303.5 962.2 303.1 962.4 304.0 962.7 302.9 963.0 303.9 963.3 302.9 963.5 302.7 963.8 301.5 964.1 301.9 964.4 303.2 964.6 301.6 964.9 301.6 965.2 301.4 965.5 300.9 965.7 301.7 966.0 301.7 966.3 301.2 966.6 302.5 966.8 302.7 967.1 303.6 967.4 304.7 967.7 305.1 967.9 305.3 968.2 306.2 968.5 306.7 968.8 305.5 969.0 304.9 969.3 303.9 969.6 302.7 969.9 301.5 970.1 298.4 970.4 297.9 970.7 297.8 971.0 296.7 971.2 294.2 971.5 292.2 971.8 289.5 972.1 290.5 972.3 289.0 972.6 289.2 972.9 290.4 973.2 289.8 973.4 290.9 973.7 291.6 974.0 291.9 974.3 292.1 974.5 291.5 974.8 289.7 975.1 291.0 975.4 291.4 975.6 290.0 975.9 288.1 976.2 289.5 976.5 289.8 976.7 291.5 977.0 292.9 977.3 292.4 977.6 295.3 977.8 296.7 978.1 297.1 978.4 297.2 978.6 295.8 978.9 294.1 979.2 294.3 979.5 294.1 979.7 293.4 980.0 296.0 980.3 298.8 980.6 302.3 980.8 302.1 981.1 304.1 981.4 304.0 981.7 304.4 981.9 302.6 982.2 303.0 982.5 301.8 982.8 303.7 983.0 301.9 983.3 302.9 983.6 304.9 983.9 304.5 984.1 303.4 984.4 304.7 984.7 304.8 985.0 305.1 985.2 304.1 985.5 303.1 985.8 305.7 986.1 306.1 986.3 307.2 986.6 308.0 986.9 306.9 987.2 308.2 987.4 309.8 987.7 309.8 988.0 310.9 988.3 309.8 988.5 309.7 988.8 312.4 989.1 310.7 989.4 311.6 989.6 309.4 989.9 309.7 990.2 308.5 990.5 308.4 990.7 308.7 991.0 310.1 991.3 308.6 991.6 308.3 991.8 307.5 992.1 307.0 992.4 305.8 992.7 304.4 992.9 303.5 993.2 301.1 993.5 299.3 993.8 296.8 994.0 296.4 994.3 297.9 994.6 298.0 994.9 297.5 995.1 298.4 995.4 300.3 995.7 300.2 995.9 298.8 996.2 295.7 996.5 296.1 996.8 295.5 997.0 295.3 997.3 293.1 997.6 292.9 997.9 293.6 998.1 293.9 998.4 292.2 998.7 293.2 999.0 293.5 999.2 293.3 999.5 293.1 999.8 293.0 1000.1 292.2 1000.3 291.5 1000.6 289.4 1000.9 288.9 1001.2 288.2 1001.4 287.3 1001.7 286.4 1002.0 285.0 1002.3 284.7 1002.5 285.7 1002.8 284.4 1003.1 285.4 1003.4 285.3 1003.6 286.2 1003.9 287.7 1004.2 287.1 1004.5 287.9 1004.7 287.8 1005.0 288.2 1005.3 288.1 1005.6 288.2 1005.8 287.6 1006.1 288.5 1006.4 288.1 1006.7 289.2 1006.9 289.0 1007.2 288.9 1007.5 288.2 1007.8 288.3 1008.0 288.9 1008.3 288.7 1008.6 288.0 1008.9 285.9 1009.1 286.6 1009.4 286.2 1009.7 286.4 1010.0 287.5 1010.2 287.8 1010.5 288.1 1010.8 290.4 1011.1 289.9 1011.3 290.3 1011.6 292.4 1011.9 292.0 1012.2 292.4 1012.4 295.7 1012.7 297.5 1013.0 298.3 1013.2 299.4 1013.5 299.9 1013.8 299.8 1014.1 299.5 1014.3 297.2 1014.6 294.6 1014.9 294.7 1015.2 296.4 1015.4 294.4 1015.7 292.9 1016.0 291.4 1016.3 290.4 1016.5 291.4 1016.8 290.1 1017.1 287.6 1017.4 288.4 1017.6 288.9 1017.9 290.9 1018.2 291.2 1018.5 292.6 1018.7 293.8 1019.0 292.5 1019.3 293.1 1019.6 294.1 1019.8 293.7 1020.1 293.7 1020.4 293.6 1020.7 294.5 1020.9 296.8 1021.2 296.8 1021.5 297.7 1021.8 296.7 1022.0 296.5 1022.3 294.0 1022.6 293.0 1022.9 293.5 1023.1 294.0 1023.4 293.5 1023.7 295.8 1024.0 297.1 1024.2 298.1 1024.5 298.4 1024.8 297.8 1025.1 297.4 1025.3 295.6 1025.6 294.0 1025.9 292.9 1026.2 290.5 1026.4 290.9 1026.7 289.6 1027.0 288.3 1027.3 289.9 1027.5 289.9 1027.8 290.8 1028.1 294.2 1028.4 292.7 1028.6 294.0 1028.9 296.6 1029.2 294.9 1029.4 294.7 1029.7 295.0 1030.0 294.8 1030.3 295.4 1030.5 295.5 1030.8 293.5 1031.1 293.8 1031.4 294.0 1031.6 292.9 1031.9 292.3 1032.2 292.6 1032.5 293.0 1032.7 292.2 1033.0 293.9 1033.3 293.9 1033.6 295.7 1033.8 296.1 1034.1 296.0 1034.4 296.0 1034.7 297.6 1034.9 295.5 1035.2 294.7 1035.5 294.0 1035.8 293.1 1036.0 293.3 1036.3 291.9 1036.6 291.8 1036.9 292.9 1037.1 293.3 1037.4 292.8 1037.7 294.0 1038.0 292.4 1038.2 293.4 1038.5 292.0 1038.8 292.6 1039.1 293.7 1039.3 293.3 1039.6 294.4 1039.9 296.4 1040.2 295.8 1040.4 298.2 1040.7 298.7 1041.0 298.2 1041.3 298.2 1041.5 295.7 1041.8 294.4 1042.1 294.7 1042.4 295.0 1042.6 294.2 1042.9 294.0 1043.2 294.6 1043.5 295.5 1043.7 297.3 1044.0 296.6 1044.3 294.8 1044.6 296.2 1044.8 296.4 1045.1 295.7 1045.4 295.9 1045.7 295.2 1045.9 295.1 1046.2 295.2 1046.5 294.2 1046.7 294.1 1047.0 294.8 1047.3 295.3 1047.6 295.5 1047.8 295.8 1048.1 295.3 1048.4 295.1 1048.7 296.2 1048.9 296.0 1049.2 294.9 1049.5 293.8 1049.8 295.4 1050.0 295.4 1050.3 294.9 1050.6 293.2 1050.9 291.9 1051.1 295.1 1051.4 296.5 1051.7 296.3 1052.0 295.4 1052.2 295.9 1052.5 295.4 1052.8 296.9 1053.1 294.1 1053.3 293.9 1053.6 292.3 1053.9 294.2 1054.2 294.2 1054.4 294.6 1054.7 294.7 1055.0 296.2 1055.3 297.1 1055.5 298.6 1055.8 296.6 1056.1 297.3 1056.4 297.6 1056.6 296.6 1056.9 295.8 1057.2 294.2 1057.5 294.1 1057.7 295.1 1058.0 293.9 1058.3 295.3 1058.6 296.0 1058.8 296.0 1059.1 295.7 1059.4 294.2 1059.7 294.8 1059.9 296.2 1060.2 296.0 1060.5 295.1 1060.8 294.1 1061.0 294.2 1061.3 295.2 1061.6 295.6 1061.9 294.3 1062.1 292.8 1062.4 291.9 1062.7 291.8 1063.0 292.1 1063.2 290.1 1063.5 291.4 1063.8 292.3 1064.0 292.1 1064.3 293.9 1064.6 294.7 1064.9 294.4 1065.1 294.8 1065.4 293.1 1065.7 291.0 1066.0 292.4 1066.2 293.1 1066.5 293.9 1066.8 294.8 1067.1 297.7 1067.3 297.5 1067.6 298.5 1067.9 298.3 1068.2 298.4 1068.4 297.9 1068.7 297.3 1069.0 296.9 1069.3 297.1 1069.5 296.0 1069.8 295.9 1070.1 295.4 1070.4 295.9 1070.6 294.9 1070.9 294.3 1071.2 294.2 1071.5 294.2 1071.7 294.2 1072.0 293.2 1072.3 291.9 1072.6 293.4 1072.8 293.7 1073.1 292.0 1073.4 292.5 1073.7 292.3 1073.9 290.7 1074.2 291.5 1074.5 291.1 1074.8 291.2 1075.0 292.7 1075.3 293.4 1075.6 293.7 1075.9 296.1 1076.1 296.6 1076.4 297.4 1076.7 297.1 1077.0 296.4 1077.2 296.8 1077.5 296.3 1077.8 294.7 1078.1 292.9 1078.3 291.4 1078.6 290.0 1078.9 291.2 1079.2 291.6 1079.4 290.2 1079.7 289.9 1080.0 290.0 1080.2 289.1 1080.5 289.6 1080.8 289.0 1081.1 288.6 1081.3 291.4 1081.6 294.0 1081.9 294.8 1082.2 297.1 1082.4 297.6 1082.7 296.3 1083.0 296.2 1083.3 295.3 1083.5 293.5 1083.8 293.3 1084.1 292.8 1084.4 293.5 1084.6 294.3 1084.9 294.3 1085.2 294.1 1085.5 295.4 1085.7 295.3 1086.0 295.2 1086.3 294.4 1086.6 294.3 1086.8 294.5 1087.1 293.0 1087.4 290.7 1087.7 290.7 1087.9 289.8 1088.2 288.8 1088.5 289.2 1088.8 288.1 1089.0 288.8 1089.3 289.9 1089.6 290.5 1089.9 290.2 1090.1 289.6 1090.4 288.5 1090.7 289.0 1091.0 288.9 1091.2 289.6 1091.5 288.4 1091.8 287.9 1092.1 288.0 1092.3 288.6 1092.6 287.0 1092.9 286.7 1093.2 286.3 1093.4 286.7 1093.7 286.8 1094.0 287.1 1094.3 285.0 1094.5 286.4 1094.8 285.7 1095.1 285.3 1095.4 285.8 1095.6 285.5 1095.9 284.8 1096.2 288.2 1096.5 287.7 1096.7 287.7 1097.0 285.7 1097.3 284.7 1097.5 285.8 1097.8 286.7 1098.1 284.6 1098.4 286.0 1098.6 286.1 1098.9 287.5 1099.2 288.0 1099.5 288.4 1099.7 288.3 1100.0 288.2 1100.3 286.8 1100.6 286.3 1100.8 287.9 1101.1 287.1 1101.4 286.7 1101.7 285.8 1101.9 286.7 1102.2 285.7 1102.5 287.4 1102.8 285.9 1103.0 288.8 1103.3 286.7 1103.6 288.5 1103.9 289.5 1104.1 290.9 1104.4 288.9 1104.7 289.7 1105.0 286.5 1105.2 289.2 1105.5 287.4 1105.8 286.3 1106.1 285.9 1106.3 286.9 1106.6 286.6 1106.9 287.9 1107.2 286.4 1107.4 287.2 1107.7 286.8 1108.0 287.4 1108.3 288.4 1108.5 288.5 1108.8 288.8 1109.1 290.0 1109.4 290.6 1109.6 291.5 1109.9 292.2 1110.2 292.8 1110.5 292.9 1110.7 294.1 1111.0 293.7 1111.3 294.0 1111.6 295.5 1111.8 296.4 1112.1 295.6 1112.4 295.6 1112.7 294.9 1112.9 295.4 1113.2 298.4 1113.5 297.4 1113.8 296.1 1114.0 298.0 1114.3 301.1 1114.6 301.3 1114.8 301.1 1115.1 299.7 1115.4 299.7 1115.7 300.9 1115.9 300.6 1116.2 298.4 1116.5 297.9 1116.8 299.0 1117.0 300.1 1117.3 302.9 1117.6 305.3 1117.9 307.0 1118.1 306.9 1118.4 307.5 1118.7 309.1 1119.0 307.4 1119.2 307.3 1119.5 305.8 1119.8 304.7 1120.1 306.7 1120.3 308.0 1120.6 307.9 1120.9 309.2 1121.2 307.7 1121.4 309.0 1121.7 308.9 1122.0 309.5 1122.3 308.1 1122.5 308.6 1122.8 309.8 1123.1 311.1 1123.4 310.8 1123.6 311.7 1123.9 310.8 1124.2 313.7 1124.5 311.6 1124.7 311.3 1125.0 311.5 1125.3 312.0 1125.6 312.2 1125.8 311.6 1126.1 310.5 1126.4 311.5 1126.7 308.8 1126.9 307.6 1127.2 306.6 1127.5 307.7 1127.8 308.1 1128.0 307.3 1128.3 307.9 1128.6 311.6 1128.9 313.0 1129.1 314.3 1129.4 312.3 1129.7 312.8 1130.0 313.5 1130.2 314.3 1130.5 313.7 1130.8 312.9 1131.1 311.6 1131.3 311.5 1131.6 311.7 1131.9 312.1 1132.1 310.9 1132.4 311.3 1132.7 312.2 1133.0 313.6 1133.2 314.2 1133.5 315.6 1133.8 316.3 1134.1 317.0 1134.3 316.0 1134.6 316.1 1134.9 315.5 1135.2 316.6 1135.4 316.7 1135.7 316.2 1136.0 315.2 1136.3 315.8 1136.5 315.8 1136.8 316.0 1137.1 315.5 1137.4 314.6 1137.6 316.0 1137.9 316.4 1138.2 315.0 1138.5 315.8 1138.7 316.6 1139.0 316.8 1139.3 317.3 1139.6 317.9 1139.8 317.1 1140.1 319.5 1140.4 317.8 1140.7 317.7 1140.9 318.6 1141.2 319.5 1141.5 318.0 1141.8 319.7 1142.0 317.9 1142.3 319.1 1142.6 319.1 1142.9 318.7 1143.1 318.4 1143.4 317.9 1143.7 317.2 1144.0 318.5 1144.2 318.3 1144.5 318.2 1144.8 318.9 1145.1 317.0 1145.3 318.5 1145.6 319.0 1145.9 318.4 1146.2 319.8 1146.4 319.4 1146.7 320.4 1147.0 321.1 1147.3 321.8 1147.5 320.8 1147.8 320.6 1148.1 320.6 1148.3 321.7 1148.6 320.4 1148.9 321.0 1149.2 319.6 1149.4 320.3 1149.7 319.8 1150.0 318.5 1150.3 317.0 1150.5 315.6 1150.8 311.9 1151.1 310.4 1151.4 310.0 1151.6 309.1 1151.9 306.4 1152.2 305.0 1152.5 304.8 1152.7 306.1 1153.0 307.3 1153.3 305.9 1153.6 305.0 1153.8 306.3 1154.1 305.5 1154.4 305.0 1154.7 305.4 1154.9 304.6 1155.2 304.6 1155.5 304.8 1155.8 303.8 1156.0 305.5 1156.3 305.1 1156.6 305.0 1156.9 303.3 1157.1 303.2 1157.4 303.5 1157.7 301.1 1158.0 298.5 1158.2 298.8 1158.5 297.2 1158.8 297.9 1159.1 297.0 1159.3 296.1 1159.6 298.1 1159.9 299.1 1160.2 298.0 1160.4 298.1 1160.7 295.9 1161.0 294.2 1161.3 296.1 1161.5 294.1 1161.8 293.9 1162.1 294.6 1162.4 294.7 1162.6 293.3 1162.9 292.8 1163.2 288.8 1163.5 290.4 1163.7 288.1 1164.0 284.7 1164.3 282.6 1164.6 282.6 1164.8 282.0 1165.1 281.3" stroke="#e3262a" stroke-width="1" fill="none" stroke-linejoin="round"/>
<rect x="808.4" y="218.5" width="356.7" height="158.2" fill="none" stroke="#555" stroke-width="0.9"/>
<path d="M879.4 215.5V377" stroke="#e60000" stroke-width="4.2" stroke-dasharray="16.6 6.1" fill="none"/>
<path d="M996.8 215.5V377" stroke="#e60000" stroke-width="4.2" stroke-dasharray="16.6 6.1" fill="none"/>
<path d="M1086.5 215.5V377" stroke="#e60000" stroke-width="4.2" stroke-dasharray="16.6 6.1" fill="none"/>
<text transform="translate(804.4 221.7) scale(1 0.8)" font-size="10.8" font-weight="700" fill="#111" text-anchor="end">1</text>
<text transform="translate(804.4 261.25) scale(1 0.8)" font-size="10.8" font-weight="700" fill="#111" text-anchor="end">0.5</text>
<text transform="translate(804.4 300.8) scale(1 0.8)" font-size="10.8" font-weight="700" fill="#111" text-anchor="end">0</text>
<text transform="translate(804.4 340.35) scale(1 0.8)" font-size="10.8" font-weight="700" fill="#111" text-anchor="end">-0.5</text>
<text transform="translate(804.4 379.9) scale(1 0.8)" font-size="10.8" font-weight="700" fill="#111" text-anchor="end">-1</text>
<text transform="translate(808.4 388.1) scale(1 0.8)" font-size="10.8" font-weight="700" fill="#111" text-anchor="middle">0</text>
<text transform="translate(867.85 388.1) scale(1 0.8)" font-size="10.8" font-weight="700" fill="#111" text-anchor="middle">4</text>
<text transform="translate(1105.65 388.1) scale(1 0.8)" font-size="10.8" font-weight="700" fill="#111" text-anchor="middle">20</text>
<text transform="translate(1165.1 388.1) scale(1 0.8)" font-size="10.8" font-weight="700" fill="#111" text-anchor="middle">24</text>
<text transform="translate(988.9 388.1) scale(1 0.8)" font-size="10.8" font-weight="700" fill="#111" text-anchor="middle">2</text>
<g transform="translate(982.6 397.6) scale(1 0.8)"><text x="-26.88" y="0" font-size="9.6" font-weight="700" fill="#1c1c30" textLength="55.7" lengthAdjust="spacingAndGlyphs">时间（小时）</text></g>
<g transform="translate(782.9 298.6) rotate(-90) scale(1 0.86)"><text x="-37.93" y="0" font-size="8.6" font-weight="700" fill="#1c1c30" textLength="58.5" lengthAdjust="spacingAndGlyphs">储能输出功率（</text>
<text x="20.55" y="0" font-size="8.6" font-weight="700" fill="#1c1c30" textLength="10.51" lengthAdjust="spacingAndGlyphs">pu</text>
<text x="31.05" y="0" font-size="8.6" font-weight="700" fill="#1c1c30">）</text></g>
<rect x="888.9" y="203" width="87.4" height="25.2" fill="#ff99ff"/>
<text x="902" y="221.6" font-size="15.3" font-weight="700" fill="#000">削峰填谷</text>
<rect x="896.1" y="342" width="88.2" height="22.2" fill="#ffff00"/>
<text x="909.6" y="360" font-size="15.3" font-weight="700" fill="#000">波动平抑</text>
<rect x="896.9" y="364" width="87.4" height="25.4" fill="#a9d18e"/>
<text x="910" y="383.6" font-size="15.3" font-weight="700" fill="#000">一次调频</text>
<rect x="998.2" y="335.9" width="87.4" height="27.3" fill="#ffff00"/>
<text x="1011.3" y="356.4" font-size="15.3" font-weight="700" fill="#000">波动平抑</text>
<rect x="999.6" y="363" width="87.8" height="25.3" fill="#bdd7ee"/>
<text x="1012.9" y="383.4" font-size="15.3" font-weight="700" fill="#000">容量备用</text>
<rect x="772.7" y="420.3" width="397.1" height="156.4" fill="none" stroke="#4468ad" stroke-width="2.2"/>
<path d="M971.5 425.5V419H998V425.5Z" fill="#7ba0d3"/>
<text x="843.2" y="459.9" font-size="30.8" font-weight="700" fill="#1f4e79" stroke="#1f4e79" stroke-width="0.5" stroke-linejoin="round">储能功能<tspan x="966.4">”</tspan><tspan x="997.35">频分复用</tspan><tspan x="1120.7">”</tspan></text>
<path d="M882.4 473.6H1033.6L1061.8 522.4L1033.6 571.2H882.4Z" fill="#e3e3e3" stroke="#666" stroke-width="0.9"/>
<rect x="886.4" y="476.6" width="65.2" height="27.6" fill="#fff" stroke="#777" stroke-width="0.9"/>
<path d="M896.5 489.5H941.9M951.6 489.5H966" stroke="#555" stroke-width="0.7" fill="none"/>
<path d="M899.4 489.5 899.9 488.1 900.5 487.0 901.0 486.2 901.6 485.9 902.1 486.2 902.7 487.0 903.2 488.1 903.8 489.5 904.4 490.9 904.9 492.0 905.4 492.8 906.0 493.1 906.5 492.8 907.1 492.0 907.6 490.9 908.2 489.5 908.8 488.1 909.3 487.0 909.9 486.2 910.4 485.9 910.9 486.2 911.5 487.0 912.0 488.1 912.6 489.5 913.1 490.9 913.7 492.0 914.2 492.8 914.8 493.1 915.4 492.8 915.9 492.0 916.4 490.9 917.0 489.5 917.5 488.1 918.1 487.0 918.6 486.2 919.2 485.9 919.8 486.2 920.3 487.0 920.9 488.1 921.4 489.5 922.0 490.9 922.5 492.0 923.0 492.8 923.6 493.1 924.1 492.8 924.7 492.0 925.2 490.9 925.8 489.5 926.4 488.1 926.9 487.0 927.5 486.2 928.0 485.9 928.5 486.2 929.1 487.0 929.6 488.1 930.2 489.5 930.8 490.9 931.3 492.0 931.9 492.8 932.4 493.1 933.0 492.8 933.5 492.0 934.0 490.9 934.6 489.5 935.1 488.1 935.7 487.0 936.2 486.2 936.8 485.9 937.4 486.2 937.9 487.0 938.5 488.1 939.0 489.5" stroke="#c2378d" stroke-width="0.9" fill="none"/>
<text x="919" y="484.4" font-size="6.6" fill="#2a2a2a" text-anchor="middle">Modulator</text>
<text x="919" y="500.2" font-size="6.6" fill="#2a2a2a" text-anchor="middle">Carrier f<tspan font-size="4.4" dy="1.3">1</tspan></text>
<rect x="886.4" y="509" width="65.2" height="27.5" fill="#fff" stroke="#777" stroke-width="0.9"/>
<path d="M896.5 522.4H941.9M951.6 522.4H966" stroke="#555" stroke-width="0.7" fill="none"/>
<path d="M899.4 522.4 899.7 521.0 899.9 519.9 900.2 519.1 900.5 518.8 900.8 519.1 901.0 519.9 901.3 521.0 901.6 522.4 901.9 523.8 902.1 524.9 902.4 525.7 902.7 526.0 903.0 525.7 903.2 524.9 903.5 523.8 903.8 522.4 904.1 521.0 904.4 519.9 904.6 519.1 904.9 518.8 905.2 519.1 905.4 519.9 905.7 521.0 906.0 522.4 906.3 523.8 906.5 524.9 906.8 525.7 907.1 526.0 907.4 525.7 907.6 524.9 907.9 523.8 908.2 522.4 908.5 521.0 908.8 519.9 909.0 519.1 909.3 518.8 909.6 519.1 909.9 519.9 910.1 521.0 910.4 522.4 910.7 523.8 910.9 524.9 911.2 525.7 911.5 526.0 911.8 525.7 912.0 524.9 912.3 523.8 912.6 522.4 912.9 521.0 913.1 519.9 913.4 519.1 913.7 518.8 914.0 519.1 914.2 519.9 914.5 521.0 914.8 522.4 915.1 523.8 915.4 524.9 915.6 525.7 915.9 526.0 916.2 525.7 916.4 524.9 916.7 523.8 917.0 522.4 917.3 521.0 917.5 519.9 917.8 519.1 918.1 518.8 918.4 519.1 918.6 519.9 918.9 521.0 919.2 522.4 919.5 523.8 919.8 524.9 920.0 525.7 920.3 526.0 920.6 525.7 920.9 524.9 921.1 523.8 921.4 522.4 921.7 521.0 922.0 519.9 922.2 519.1 922.5 518.8 922.8 519.1 923.0 519.9 923.3 521.0 923.6 522.4 923.9 523.8 924.1 524.9 924.4 525.7 924.7 526.0 925.0 525.7 925.2 524.9 925.5 523.8 925.8 522.4 926.1 521.0 926.4 519.9 926.6 519.1 926.9 518.8 927.2 519.1 927.5 519.9 927.7 521.0 928.0 522.4 928.3 523.8 928.5 524.9 928.8 525.7 929.1 526.0 929.4 525.7 929.6 524.9 929.9 523.8 930.2 522.4 930.5 521.0 930.8 519.9 931.0 519.1 931.3 518.8 931.6 519.1 931.9 519.9 932.1 521.0 932.4 522.4 932.7 523.8 933.0 524.9 933.2 525.7 933.5 526.0 933.8 525.7 934.0 524.9 934.3 523.8 934.6 522.4 934.9 521.0 935.1 519.9 935.4 519.1 935.7 518.8 936.0 519.1 936.2 519.9 936.5 521.0 936.8 522.4 937.1 523.8 937.4 524.9 937.6 525.7 937.9 526.0 938.2 525.7 938.5 524.9 938.7 523.8 939.0 522.4" stroke="#c2378d" stroke-width="0.9" fill="none"/>
<text x="919" y="516.8" font-size="6.6" fill="#2a2a2a" text-anchor="middle">Modulator</text>
<text x="919" y="532.5" font-size="6.6" fill="#2a2a2a" text-anchor="middle">Carrier f<tspan font-size="4.4" dy="1.3">2</tspan></text>
<rect x="886.4" y="541" width="65.2" height="27.4" fill="#fff" stroke="#777" stroke-width="0.9"/>
<path d="M896.5 553.9H941.9M951.6 553.9H966" stroke="#555" stroke-width="0.7" fill="none"/>
<path d="M899.4 553.9 899.5 552.5 899.6 551.4 899.8 550.6 899.9 550.3 900.0 550.6 900.1 551.4 900.3 552.5 900.4 553.9 900.5 555.3 900.6 556.4 900.8 557.2 900.9 557.5 901.0 557.2 901.1 556.4 901.3 555.3 901.4 553.9 901.5 552.5 901.6 551.4 901.8 550.6 901.9 550.3 902.0 550.6 902.1 551.4 902.2 552.5 902.4 553.9 902.5 555.3 902.6 556.4 902.7 557.2 902.9 557.5 903.0 557.2 903.1 556.4 903.2 555.3 903.4 553.9 903.5 552.5 903.6 551.4 903.7 550.6 903.9 550.3 904.0 550.6 904.1 551.4 904.2 552.5 904.4 553.9 904.5 555.3 904.6 556.4 904.7 557.2 904.8 557.5 905.0 557.2 905.1 556.4 905.2 555.3 905.3 553.9 905.5 552.5 905.6 551.4 905.7 550.6 905.8 550.3 906.0 550.6 906.1 551.4 906.2 552.5 906.3 553.9 906.5 555.3 906.6 556.4 906.7 557.2 906.8 557.5 906.9 557.2 907.1 556.4 907.2 555.3 907.3 553.9 907.4 552.5 907.6 551.4 907.7 550.6 907.8 550.3 907.9 550.6 908.1 551.4 908.2 552.5 908.3 553.9 908.4 555.3 908.6 556.4 908.7 557.2 908.8 557.5 908.9 557.2 909.1 556.4 909.2 555.3 909.3 553.9 909.4 552.5 909.5 551.4 909.7 550.6 909.8 550.3 909.9 550.6 910.0 551.4 910.2 552.5 910.3 553.9 910.4 555.3 910.5 556.4 910.7 557.2 910.8 557.5 910.9 557.2 911.0 556.4 911.2 555.3 911.3 553.9 911.4 552.5 911.5 551.4 911.7 550.6 911.8 550.3 911.9 550.6 912.0 551.4 912.1 552.5 912.3 553.9 912.4 555.3 912.5 556.4 912.6 557.2 912.8 557.5 912.9 557.2 913.0 556.4 913.1 555.3 913.3 553.9 913.4 552.5 913.5 551.4 913.6 550.6 913.8 550.3 913.9 550.6 914.0 551.4 914.1 552.5 914.2 553.9 914.4 555.3 914.5 556.4 914.6 557.2 914.7 557.5 914.9 557.2 915.0 556.4 915.1 555.3 915.2 553.9 915.4 552.5 915.5 551.4 915.6 550.6 915.7 550.3 915.9 550.6 916.0 551.4 916.1 552.5 916.2 553.9 916.4 555.3 916.5 556.4 916.6 557.2 916.7 557.5 916.8 557.2 917.0 556.4 917.1 555.3 917.2 553.9 917.3 552.5 917.5 551.4 917.6 550.6 917.7 550.3 917.8 550.6 918.0 551.4 918.1 552.5 918.2 553.9 918.3 555.3 918.5 556.4 918.6 557.2 918.7 557.5 918.8 557.2 919.0 556.4 919.1 555.3 919.2 553.9 919.3 552.5 919.4 551.4 919.6 550.6 919.7 550.3 919.8 550.6 919.9 551.4 920.1 552.5 920.2 553.9 920.3 555.3 920.4 556.4 920.6 557.2 920.7 557.5 920.8 557.2 920.9 556.4 921.1 555.3 921.2 553.9 921.3 552.5 921.4 551.4 921.6 550.6 921.7 550.3 921.8 550.6 921.9 551.4 922.0 552.5 922.2 553.9 922.3 555.3 922.4 556.4 922.5 557.2 922.7 557.5 922.8 557.2 922.9 556.4 923.0 555.3 923.2 553.9 923.3 552.5 923.4 551.4 923.5 550.6 923.7 550.3 923.8 550.6 923.9 551.4 924.0 552.5 924.1 553.9 924.3 555.3 924.4 556.4 924.5 557.2 924.6 557.5 924.8 557.2 924.9 556.4 925.0 555.3 925.1 553.9 925.3 552.5 925.4 551.4 925.5 550.6 925.6 550.3 925.8 550.6 925.9 551.4 926.0 552.5 926.1 553.9 926.3 555.3 926.4 556.4 926.5 557.2 926.6 557.5 926.7 557.2 926.9 556.4 927.0 555.3 927.1 553.9 927.2 552.5 927.4 551.4 927.5 550.6 927.6 550.3 927.7 550.6 927.9 551.4 928.0 552.5 928.1 553.9 928.2 555.3 928.4 556.4 928.5 557.2 928.6 557.5 928.7 557.2 928.9 556.4 929.0 555.3 929.1 553.9 929.2 552.5 929.3 551.4 929.5 550.6 929.6 550.3 929.7 550.6 929.8 551.4 930.0 552.5 930.1 553.9 930.2 555.3 930.3 556.4 930.5 557.2 930.6 557.5 930.7 557.2 930.8 556.4 931.0 555.3 931.1 553.9 931.2 552.5 931.3 551.4 931.5 550.6 931.6 550.3 931.7 550.6 931.8 551.4 931.9 552.5 932.1 553.9 932.2 555.3 932.3 556.4 932.4 557.2 932.6 557.5 932.7 557.2 932.8 556.4 932.9 555.3 933.1 553.9 933.2 552.5 933.3 551.4 933.4 550.6 933.6 550.3 933.7 550.6 933.8 551.4 933.9 552.5 934.0 553.9 934.2 555.3 934.3 556.4 934.4 557.2 934.5 557.5 934.7 557.2 934.8 556.4 934.9 555.3 935.0 553.9 935.2 552.5 935.3 551.4 935.4 550.6 935.5 550.3 935.7 550.6 935.8 551.4 935.9 552.5 936.0 553.9 936.2 555.3 936.3 556.4 936.4 557.2 936.5 557.5 936.6 557.2 936.8 556.4 936.9 555.3 937.0 553.9 937.1 552.5 937.3 551.4 937.4 550.6 937.5 550.3 937.6 550.6 937.8 551.4 937.9 552.5 938.0 553.9 938.1 555.3 938.3 556.4 938.4 557.2 938.5 557.5 938.6 557.2 938.8 556.4 938.9 555.3 939.0 553.9" stroke="#c2378d" stroke-width="0.9" fill="none"/>
<text x="919" y="548.8" font-size="6.6" fill="#2a2a2a" text-anchor="middle">Modulator</text>
<text x="919" y="564.4" font-size="6.6" fill="#2a2a2a" text-anchor="middle">Carrier f<tspan font-size="4.4" dy="1.3">3</tspan></text>
<path d="M965.2 489.5 965.7 487.2 966.2 484.2 966.7 481.5 967.2 480.5 967.7 481.9 968.3 485.1 968.8 489.5 969.3 494.3 969.8 498.5 970.3 501.2 970.8 501.7 971.3 499.4 971.8 495.0 972.3 489.5 972.8 484.0 973.3 479.7 973.9 477.3 974.4 477.3 974.9 479.7 975.4 484.1 975.9 489.5 976.4 494.8 976.9 498.9 977.4 501.0 977.9 500.9 978.4 498.5 978.9 494.4 979.5 489.5 980.0 484.7 980.5 480.9 981.0 478.9 981.5 479.1 982.0 481.2 982.5 485.0 983.0 489.5 983.5 493.9 984.0 497.3 984.5 499.1 985.1 499.0 985.6 497.0 986.1 493.6 986.6 489.5 987.1 485.5 987.6 482.5 988.1 480.9 988.6 481.0 989.1 482.8 989.6 485.8 990.1 489.5 990.7 493.0 991.2 495.8 991.7 497.2 992.2 497.0 992.7 495.4 993.2 492.7 993.7 489.5 994.2 486.4 994.7 484.0 995.2 482.8 995.7 482.9 996.3 484.3 996.8 486.7 997.3 489.5 997.8 492.2 998.3 494.2 998.8 495.2 999.3 495.1 999.8 493.9 1000.3 491.9 1000.8 489.5 1001.3 487.3 1001.9 485.6 1002.4 485.0 1002.9 485.5 1003.4 486.7 1003.9 488.2 1004.4 489.5" stroke="#4a86c6" stroke-width="0.9" fill="none" stroke-linejoin="round"/>
<path d="M965.2 484.7 966.2 481.9 967.2 479.5 968.2 478.6 969.2 477.6 970.2 476.7 971.2 476.0 972.2 476.1 973.2 476.1 974.2 476.2 975.3 476.3 976.3 476.5 977.3 476.8 978.3 477.1 979.3 477.4 980.3 477.7 981.3 477.9 982.3 478.2 983.3 478.5 984.3 478.8 985.3 479.1 986.3 479.3 987.3 479.6 988.3 479.9 989.3 480.2 990.3 480.5 991.3 480.7 992.3 481.0 993.3 481.3 994.3 481.6 995.4 481.9 996.4 482.1 997.4 482.4 998.4 482.7 999.4 483.0 1000.4 483.2 1001.4 483.5 1002.4 484.1 1003.4 485.2 1004.4 486.2 1004.4 492.8 1003.4 493.8 1002.4 494.9 1001.4 495.5 1000.4 495.8 999.4 496.0 998.4 496.3 997.4 496.6 996.4 496.9 995.4 497.1 994.3 497.4 993.3 497.7 992.3 498.0 991.3 498.3 990.3 498.5 989.3 498.8 988.3 499.1 987.3 499.4 986.3 499.7 985.3 499.9 984.3 500.2 983.3 500.5 982.3 500.8 981.3 501.1 980.3 501.3 979.3 501.6 978.3 501.9 977.3 502.2 976.3 502.5 975.3 502.7 974.2 502.8 973.2 502.9 972.2 502.9 971.2 503.0 970.2 502.3 969.2 501.4 968.2 500.4 967.2 499.5 966.2 497.1 965.2 494.3Z" stroke="#444" stroke-width="0.8" stroke-dasharray="2.6 1.6" fill="none"/>
<path d="M965.2 522.4 965.5 521.1 965.8 519.7 966.0 518.6 966.3 518.1 966.6 518.6 966.9 520.1 967.2 522.4 967.4 524.9 967.7 527.1 968.0 528.4 968.3 528.5 968.6 527.5 968.8 525.3 969.1 522.4 969.4 519.4 969.7 516.8 970.0 515.2 970.2 515.1 970.5 516.4 970.8 519.0 971.1 522.4 971.4 526.0 971.6 529.0 971.9 530.8 972.2 530.9 972.5 529.4 972.8 526.3 973.0 522.4 973.3 518.3 973.6 514.9 973.9 512.8 974.2 512.7 974.4 514.5 974.7 517.9 975.0 522.4 975.3 527.0 975.6 530.9 975.8 533.2 976.1 533.3 976.4 531.3 976.7 527.4 977.0 522.4 977.2 517.2 977.5 512.9 977.8 510.4 978.1 510.2 978.4 512.5 978.6 516.8 978.9 522.4 979.2 528.1 979.5 532.9 979.8 535.6 980.0 535.8 980.3 533.3 980.6 528.5 980.9 522.4 981.2 516.1 981.4 511.0 981.7 508.0 982.0 507.8 982.3 510.6 982.6 515.8 982.8 522.4 983.1 529.0 983.4 534.4 983.7 537.4 984.0 537.5 984.2 534.5 984.5 529.2 984.8 522.4 985.1 515.6 985.4 510.1 985.6 507.0 985.9 506.9 986.2 510.0 986.5 515.5 986.8 522.4 987.0 529.2 987.3 534.6 987.6 537.6 987.9 537.6 988.2 534.5 988.4 529.1 988.7 522.4 989.0 515.7 989.3 510.4 989.6 507.5 989.8 507.6 990.1 510.5 990.4 515.8 990.7 522.4 991.0 528.9 991.2 534.0 991.5 536.7 991.8 536.5 992.1 533.5 992.4 528.5 992.6 522.4 992.9 516.5 993.2 511.9 993.5 509.5 993.8 509.7 994.0 512.4 994.3 516.9 994.6 522.4 994.9 527.7 995.2 531.8 995.4 533.9 995.7 533.7 996.0 531.3 996.3 527.3 996.6 522.4 996.8 517.7 997.1 514.1 997.4 512.2 997.7 512.4 998.0 514.6 998.2 518.2 998.5 522.4 998.8 526.4 999.1 529.5 999.4 531.0 999.6 530.7 999.9 528.9 1000.2 525.9 1000.5 522.4 1000.8 519.1 1001.0 516.7 1001.3 515.6 1001.6 515.8 1001.9 517.3 1002.2 519.7 1002.4 522.4 1002.7 524.9 1003.0 526.7 1003.3 527.2 1003.6 526.6 1003.8 525.3 1004.1 523.7 1004.4 522.4" stroke="#4a86c6" stroke-width="0.9" fill="none" stroke-linejoin="round"/>
<path d="M965.2 519.1 966.2 517.4 967.2 516.0 968.2 515.3 969.2 514.7 970.2 514.1 971.2 513.5 972.2 512.8 973.2 512.2 974.2 511.6 975.3 510.9 976.3 510.3 977.3 509.6 978.3 509.0 979.3 508.4 980.3 507.7 981.3 507.1 982.3 506.5 983.3 506.3 984.3 506.1 985.3 505.9 986.3 505.8 987.3 505.9 988.3 506.1 989.3 506.3 990.3 506.5 991.3 506.8 992.3 507.6 993.3 508.3 994.3 509.0 995.4 509.7 996.4 510.4 997.4 511.1 998.4 511.9 999.4 512.8 1000.4 513.7 1001.4 514.6 1002.4 515.6 1003.4 516.9 1004.4 519.1 1004.4 525.7 1003.4 527.9 1002.4 529.2 1001.4 530.2 1000.4 531.1 999.4 532.0 998.4 532.9 997.4 533.7 996.4 534.4 995.4 535.1 994.3 535.8 993.3 536.5 992.3 537.2 991.3 538.0 990.3 538.3 989.3 538.5 988.3 538.7 987.3 538.9 986.3 539.0 985.3 538.9 984.3 538.7 983.3 538.5 982.3 538.3 981.3 537.7 980.3 537.1 979.3 536.4 978.3 535.8 977.3 535.2 976.3 534.5 975.3 533.9 974.2 533.2 973.2 532.6 972.2 532.0 971.2 531.3 970.2 530.7 969.2 530.1 968.2 529.5 967.2 528.8 966.2 527.4 965.2 525.7Z" stroke="#444" stroke-width="0.8" stroke-dasharray="2.6 1.6" fill="none"/>
<path d="M965.2 553.9 965.4 551.7 965.6 549.7 965.7 549.1 965.9 550.5 966.1 553.9 966.3 558.1 966.4 561.3 966.6 561.5 966.8 558.6 967.0 553.9 967.2 549.1 967.3 546.1 967.5 546.0 967.7 549.0 967.9 553.9 968.1 558.8 968.2 561.9 968.4 562.0 968.6 558.9 968.8 553.9 968.9 548.8 969.1 545.7 969.3 545.6 969.5 548.7 969.7 553.9 969.8 559.1 970.0 562.4 970.2 562.4 970.4 559.1 970.5 553.9 970.7 548.7 970.9 545.4 971.1 545.4 971.3 548.7 971.4 553.9 971.6 559.1 971.8 562.4 972.0 562.4 972.1 559.1 972.3 553.9 972.5 548.7 972.7 545.4 972.9 545.4 973.0 548.7 973.2 553.9 973.4 559.1 973.6 562.4 973.8 562.4 973.9 559.1 974.1 553.9 974.3 548.7 974.5 545.4 974.6 545.4 974.8 548.7 975.0 553.9 975.2 559.1 975.4 562.4 975.5 562.4 975.7 559.1 975.9 553.9 976.1 548.7 976.2 545.4 976.4 545.4 976.6 548.7 976.8 553.9 977.0 559.1 977.1 562.4 977.3 562.4 977.5 559.1 977.7 553.9 977.9 548.7 978.0 545.4 978.2 545.4 978.4 548.7 978.6 553.9 978.7 559.1 978.9 562.4 979.1 562.4 979.3 559.1 979.5 553.9 979.6 548.7 979.8 545.4 980.0 545.4 980.2 548.7 980.3 553.9 980.5 559.1 980.7 562.4 980.9 562.4 981.1 559.1 981.2 553.9 981.4 548.7 981.6 545.4 981.8 545.4 981.9 548.7 982.1 553.9 982.3 559.1 982.5 562.4 982.7 562.4 982.8 559.1 983.0 553.9 983.2 548.7 983.4 545.4 983.6 545.4 983.7 548.7 983.9 553.9 984.1 559.2 984.3 562.5 984.4 562.6 984.6 559.3 984.8 553.9 985.0 548.4 985.2 544.9 985.3 544.8 985.5 548.2 985.7 553.9 985.9 559.7 986.0 563.4 986.2 563.5 986.4 559.9 986.6 553.9 986.8 547.8 986.9 544.0 987.1 543.9 987.3 547.7 987.5 553.9 987.7 560.3 987.8 564.3 988.0 564.4 988.2 560.5 988.4 553.9 988.5 547.1 988.7 542.8 988.9 542.7 989.1 546.9 989.3 553.9 989.4 561.1 989.6 565.7 989.8 565.9 990.0 561.4 990.1 553.9 990.3 546.2 990.5 541.3 990.7 541.1 990.9 545.9 991.0 553.9 991.2 562.1 991.4 567.3 991.6 567.4 991.7 562.3 991.9 553.9 992.1 545.3 992.3 539.8 992.5 539.6 992.6 545.0 992.8 553.9 993.0 563.0 993.2 568.7 993.4 568.7 993.5 563.1 993.7 553.9 993.9 544.6 994.1 538.9 994.2 538.8 994.4 544.6 994.6 553.9 994.8 563.3 995.0 569.2 995.1 569.2 995.3 563.4 995.5 553.9 995.7 544.4 995.8 538.4 996.0 538.4 996.2 544.3 996.4 553.9 996.6 563.6 996.7 569.6 996.9 569.7 997.1 563.6 997.3 553.9 997.5 544.2 997.6 538.4 997.8 538.4 998.0 544.4 998.2 553.9 998.3 563.3 998.5 569.1 998.7 569.0 998.9 563.2 999.1 553.9 999.2 544.7 999.4 539.0 999.6 539.1 999.8 544.8 999.9 553.9 1000.1 562.9 1000.3 568.4 1000.5 568.4 1000.7 562.8 1000.8 553.9 1001.0 545.1 1001.2 540.1 1001.4 540.5 1001.5 545.9 1001.7 553.9 1001.9 561.4 1002.1 565.7 1002.3 565.3 1002.4 560.7 1002.6 553.9 1002.8 547.6 1003.0 544.1 1003.2 544.5 1003.3 548.4 1003.5 553.9 1003.7 558.5 1003.9 560.1 1004.0 559.0 1004.2 556.4 1004.4 553.9" stroke="#4a86c6" stroke-width="1" fill="none" stroke-linejoin="round"/>
<path d="M965.2 550.1 966.2 546.2 967.2 544.9 968.2 544.7 969.2 544.4 970.2 544.2 971.2 544.2 972.2 544.2 973.2 544.2 974.2 544.2 975.3 544.2 976.3 544.2 977.3 544.2 978.3 544.2 979.3 544.2 980.3 544.2 981.3 544.2 982.3 544.2 983.3 544.2 984.3 544.0 985.3 543.5 986.3 543.0 987.3 542.5 988.3 541.8 989.3 540.9 990.3 540.0 991.3 539.1 992.3 538.2 993.3 537.5 994.3 537.2 995.4 537.0 996.4 536.7 997.4 536.6 998.4 537.0 999.4 537.4 1000.4 537.9 1001.4 539.0 1002.4 541.4 1003.4 543.8 1004.4 550.1 1004.4 557.7 1003.4 564.0 1002.4 566.4 1001.4 568.8 1000.4 569.9 999.4 570.4 998.4 570.8 997.4 571.2 996.4 571.1 995.4 570.8 994.3 570.6 993.3 570.3 992.3 569.6 991.3 568.7 990.3 567.8 989.3 566.9 988.3 566.0 987.3 565.3 986.3 564.8 985.3 564.3 984.3 563.8 983.3 563.6 982.3 563.6 981.3 563.6 980.3 563.6 979.3 563.6 978.3 563.6 977.3 563.6 976.3 563.6 975.3 563.6 974.2 563.6 973.2 563.6 972.2 563.6 971.2 563.6 970.2 563.6 969.2 563.4 968.2 563.1 967.2 562.9 966.2 561.6 965.2 557.7Z" stroke="#444" stroke-width="0.8" stroke-dasharray="2.6 1.6" fill="none"/>
<path d="M1004.4 489.5H1007L1034 516M966 522.4H1031.5M1004.4 553.9H1007L1034.5 530" stroke="#333" stroke-width="0.8" fill="none"/>
<path d="M1036 517.6 L1033.71 513.33 L1033.24 515.29 L1031.4 516.09Z" fill="#222"/>
<path d="M1034.3 522.4 L1029.8 520.6 L1030.7 522.4 L1029.8 524.2Z" fill="#222"/>
<path d="M1036.6 528.4 L1032 529.91 L1033.84 530.71 L1034.31 532.67Z" fill="#222"/>
<ellipse cx="1043.2" cy="522.4" rx="8.6" ry="6.7" fill="#f2bfdf" stroke="#333" stroke-width="0.9"/>
<path d="M1040.4 522.4H1046M1043.2 519.6V525.2" stroke="#222" stroke-width="0.8"/>
<path d="M1061.8 522.4H1127.6" stroke="#888" stroke-width="0.8"/>
<path d="M1070.6 522.4 1070.8 519.9 1071.0 518.3 1071.2 519.1 1071.4 522.4 1071.6 526.5 1071.8 528.8 1072.0 527.3 1072.2 522.4 1072.4 517.1 1072.6 514.5 1072.8 516.6 1073.0 522.4 1073.2 528.6 1073.4 531.4 1073.6 529.0 1073.8 522.4 1074.0 515.4 1074.2 512.2 1074.4 515.0 1074.6 522.4 1074.8 530.2 1075.0 533.7 1075.2 530.6 1075.4 522.4 1075.6 513.8 1075.8 509.9 1076.0 513.4 1076.2 522.4 1076.4 531.8 1076.6 536.0 1076.8 532.2 1077.0 522.4 1077.2 512.2 1077.3 507.6 1077.5 511.8 1077.7 522.4 1077.9 533.2 1078.1 537.8 1078.3 533.4 1078.5 522.4 1078.7 511.2 1078.9 506.4 1079.1 511.0 1079.3 522.4 1079.5 534.0 1079.7 538.9 1079.9 534.2 1080.1 522.4 1080.3 510.4 1080.5 505.3 1080.7 510.2 1080.9 522.4 1081.1 534.8 1081.3 540.0 1081.5 535.0 1081.7 522.4 1081.9 509.6 1082.1 504.2 1082.3 509.4 1082.5 522.4 1082.7 535.6 1082.9 541.1 1083.1 535.8 1083.3 522.4 1083.5 508.9 1083.7 503.1 1083.9 508.7 1084.1 522.4 1084.3 536.3 1084.5 542.2 1084.7 536.5 1084.9 522.4 1085.1 508.1 1085.3 502.0 1085.5 507.9 1085.7 522.4 1085.9 537.1 1086.1 543.3 1086.3 537.3 1086.5 522.4 1086.7 507.3 1086.9 501.0 1087.1 507.2 1087.3 522.4 1087.5 537.8 1087.7 544.3 1087.9 538.0 1088.1 522.4 1088.3 506.6 1088.5 499.9 1088.7 506.4 1088.9 522.4 1089.1 538.6 1089.3 545.4 1089.5 538.8 1089.7 522.4 1089.9 505.9 1090.1 498.9 1090.3 505.7 1090.4 522.4 1090.6 539.3 1090.8 546.5 1091.0 539.5 1091.2 522.4 1091.4 505.1 1091.6 497.8 1091.8 504.9 1092.0 522.4 1092.2 540.1 1092.4 547.6 1092.6 540.3 1092.8 522.4 1093.0 504.3 1093.2 496.7 1093.4 504.1 1093.6 522.4 1093.8 540.9 1094.0 548.7 1094.2 541.1 1094.4 522.4 1094.6 503.5 1094.8 495.6 1095.0 503.3 1095.2 522.4 1095.4 541.7 1095.6 549.8 1095.8 541.9 1096.0 522.4 1096.2 502.7 1096.4 494.7 1096.6 502.9 1096.8 522.4 1097.0 541.7 1097.2 549.6 1097.4 541.5 1097.6 522.4 1097.8 503.4 1098.0 495.7 1098.2 503.6 1098.4 522.4 1098.6 541.0 1098.8 548.6 1099.0 540.9 1099.2 522.4 1099.4 504.1 1099.6 496.6 1099.8 504.3 1100.0 522.4 1100.2 540.3 1100.4 547.5 1100.6 540.0 1100.8 522.4 1101.0 505.1 1101.2 498.2 1101.4 505.5 1101.6 522.4 1101.8 539.0 1102.0 545.7 1102.2 538.7 1102.4 522.4 1102.6 506.4 1102.8 500.0 1103.0 506.7 1103.2 522.4 1103.4 537.8 1103.6 543.9 1103.7 537.4 1103.9 522.4 1104.1 507.8 1104.3 502.1 1104.5 508.3 1104.7 522.4 1104.9 535.9 1105.1 541.1 1105.3 535.4 1105.5 522.4 1105.7 510.0 1105.9 505.3 1106.1 510.6 1106.3 522.4 1106.5 533.7 1106.7 537.9 1106.9 533.1 1107.1 522.4 1107.3 512.2 1107.5 508.5 1107.7 513.0 1107.9 522.4 1108.1 530.9 1108.3 533.8 1108.5 530.0 1108.7 522.4 1108.9 515.7 1109.1 513.6 1109.3 516.6 1109.5 522.4 1109.7 527.3 1109.9 528.7 1110.1 526.4 1110.3 522.4" stroke="#4f88c4" stroke-width="0.95" fill="none" stroke-linejoin="round"/>
<path d="M833.7 489.5H878.1M835 522H879M834.5 553.9H879" stroke="#999" stroke-width="0.7" fill="none"/>
<path d="M840.3 489.5C842 484 844.5 480.6 848.3 480.4C853 480.3 856 483.6 860 484C866 484.6 872 487.5 877.3 489.5" stroke="#4a86c8" stroke-width="1.1" fill="none"/>
<path d="M841.4 522C846.5 519.5 850 512.6 858 511.7C866 510.8 871 512.5 878.1 522" stroke="#4a86c8" stroke-width="1.1" fill="none"/>
<path d="M839.5 553.3C842 549.6 849 549.6 855 548.6C861 547.6 864 542.6 869.5 542.3C874.5 542 876.5 547 878.1 553.9" stroke="#4a86c8" stroke-width="1.1" fill="none"/>
<text x="857" y="560.6" font-size="6.1" fill="#333" text-anchor="middle">Baseband</text>
<text x="857" y="566.6" font-size="6.1" fill="#333" text-anchor="middle">analog signals</text>
<text x="1199.6" y="578.8" font-size="34" font-weight="700" fill="#e60012" stroke="#e60012" stroke-width="0.7" textLength="80.5" lengthAdjust="spacingAndGlyphs">ESCN</text>
<path d="M1275.6 574.5L1279.2 580V574.5Z" fill="#e60012"/>
<text x="1283.6" y="577.4" font-size="25.1" font-weight="700" fill="#e60012" stroke="#e60012" stroke-width="0.5" stroke-linejoin="round">中国储能网</text>
</svg>
</body></html>
